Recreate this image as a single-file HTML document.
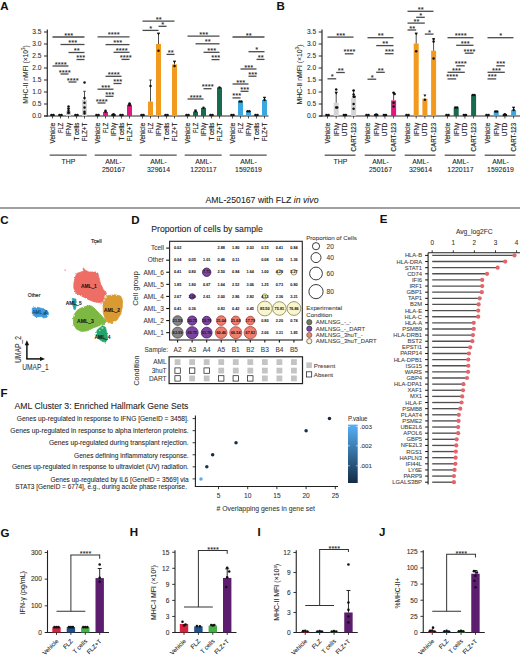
<!DOCTYPE html>
<html><head><meta charset="utf-8"><title>Figure</title>
<style>
html,body{margin:0;padding:0;background:#fff;}
body{width:520px;height:658px;overflow:hidden;}
svg{display:block;font-family:"Liberation Sans", sans-serif;}
</style></head>
<body>
<svg width="520" height="658" viewBox="0 0 520 658" font-family='"Liberation Sans", sans-serif'>
<rect width="520" height="658" fill="#fff"/>
<text x="0.30" y="9.80" font-size="11.5" text-anchor="start" fill="#111" stroke="#111" stroke-width="0.07" font-weight="bold">A</text>
<text x="276.50" y="9.80" font-size="11.5" text-anchor="start" fill="#111" stroke="#111" stroke-width="0.07" font-weight="bold">B</text>
<text x="0.30" y="223.80" font-size="11.5" text-anchor="start" fill="#111" stroke="#111" stroke-width="0.07" font-weight="bold">C</text>
<text x="131.20" y="223.60" font-size="11.5" text-anchor="start" fill="#111" stroke="#111" stroke-width="0.07" font-weight="bold">D</text>
<text x="379.80" y="223.30" font-size="11.5" text-anchor="start" fill="#111" stroke="#111" stroke-width="0.07" font-weight="bold">E</text>
<text x="0.60" y="396.60" font-size="11.5" text-anchor="start" fill="#111" stroke="#111" stroke-width="0.07" font-weight="bold">F</text>
<text x="0.50" y="537.20" font-size="11.5" text-anchor="start" fill="#111" stroke="#111" stroke-width="0.07" font-weight="bold">G</text>
<text x="129.80" y="536.40" font-size="11.5" text-anchor="start" fill="#111" stroke="#111" stroke-width="0.07" font-weight="bold">H</text>
<text x="257.40" y="536.20" font-size="11.5" text-anchor="start" fill="#111" stroke="#111" stroke-width="0.07" font-weight="bold">I</text>
<text x="379.00" y="536.40" font-size="11.5" text-anchor="start" fill="#111" stroke="#111" stroke-width="0.07" font-weight="bold">J</text>
<line x1="47.30" y1="29.50" x2="47.30" y2="116.50" stroke="#2b2b2b" stroke-width="1.2"/>
<line x1="44.00" y1="116.00" x2="47.30" y2="116.00" stroke="#2b2b2b" stroke-width="1.0"/>
<text x="41.40" y="118.30" font-size="6.6" text-anchor="end" fill="#2a2a2a" stroke="#2a2a2a" stroke-width="0.07">0.0</text>
<line x1="44.00" y1="104.00" x2="47.30" y2="104.00" stroke="#2b2b2b" stroke-width="1.0"/>
<text x="41.40" y="106.30" font-size="6.6" text-anchor="end" fill="#2a2a2a" stroke="#2a2a2a" stroke-width="0.07">0.5</text>
<line x1="44.00" y1="92.00" x2="47.30" y2="92.00" stroke="#2b2b2b" stroke-width="1.0"/>
<text x="41.40" y="94.30" font-size="6.6" text-anchor="end" fill="#2a2a2a" stroke="#2a2a2a" stroke-width="0.07">1.0</text>
<line x1="44.00" y1="80.00" x2="47.30" y2="80.00" stroke="#2b2b2b" stroke-width="1.0"/>
<text x="41.40" y="82.30" font-size="6.6" text-anchor="end" fill="#2a2a2a" stroke="#2a2a2a" stroke-width="0.07">1.5</text>
<line x1="44.00" y1="68.00" x2="47.30" y2="68.00" stroke="#2b2b2b" stroke-width="1.0"/>
<text x="41.40" y="70.30" font-size="6.6" text-anchor="end" fill="#2a2a2a" stroke="#2a2a2a" stroke-width="0.07">2.0</text>
<line x1="44.00" y1="56.00" x2="47.30" y2="56.00" stroke="#2b2b2b" stroke-width="1.0"/>
<text x="41.40" y="58.30" font-size="6.6" text-anchor="end" fill="#2a2a2a" stroke="#2a2a2a" stroke-width="0.07">2.5</text>
<line x1="44.00" y1="44.00" x2="47.30" y2="44.00" stroke="#2b2b2b" stroke-width="1.0"/>
<text x="41.40" y="46.30" font-size="6.6" text-anchor="end" fill="#2a2a2a" stroke="#2a2a2a" stroke-width="0.07">3.0</text>
<line x1="44.00" y1="32.00" x2="47.30" y2="32.00" stroke="#2b2b2b" stroke-width="1.0"/>
<text x="41.40" y="34.30" font-size="6.6" text-anchor="end" fill="#2a2a2a" stroke="#2a2a2a" stroke-width="0.07">3.5</text>
<text x="27.90" y="74.50" font-size="8.0" text-anchor="middle" fill="#222" stroke="#222" stroke-width="0.07" textLength="58.7" lengthAdjust="spacingAndGlyphs" transform="rotate(-90 27.90 74.50)">MHC-II nMFI (×10<tspan font-size="5.4" dy="-3">3</tspan><tspan dy="3">)</tspan></text>
<line x1="44.00" y1="116.00" x2="268.50" y2="116.00" stroke="#2b2b2b" stroke-width="1.1"/>
<line x1="52.50" y1="116.00" x2="52.50" y2="118.50" stroke="#2b2b2b" stroke-width="0.8"/>
<text x="54.90" y="122.80" font-size="6.7" text-anchor="end" fill="#222" stroke="#222" stroke-width="0.16" textLength="20.6" lengthAdjust="spacingAndGlyphs" transform="rotate(-90 54.90 122.80)">Vehicle</text>
<line x1="60.50" y1="116.00" x2="60.50" y2="118.50" stroke="#2b2b2b" stroke-width="0.8"/>
<text x="62.90" y="122.80" font-size="6.7" text-anchor="end" fill="#222" stroke="#222" stroke-width="0.16" textLength="10.2" lengthAdjust="spacingAndGlyphs" transform="rotate(-90 62.90 122.80)">FLZ</text>
<line x1="68.50" y1="116.00" x2="68.50" y2="118.50" stroke="#2b2b2b" stroke-width="0.8"/>
<text x="70.90" y="122.80" font-size="6.7" text-anchor="end" fill="#222" stroke="#222" stroke-width="0.16" textLength="13.3" lengthAdjust="spacingAndGlyphs" transform="rotate(-90 70.90 122.80)">IFNγ</text>
<line x1="76.50" y1="116.00" x2="76.50" y2="118.50" stroke="#2b2b2b" stroke-width="0.8"/>
<text x="78.90" y="122.80" font-size="6.7" text-anchor="end" fill="#222" stroke="#222" stroke-width="0.16" textLength="17.6" lengthAdjust="spacingAndGlyphs" transform="rotate(-90 78.90 122.80)">T cells</text>
<line x1="84.50" y1="116.00" x2="84.50" y2="118.50" stroke="#2b2b2b" stroke-width="0.8"/>
<text x="86.90" y="122.80" font-size="6.7" text-anchor="end" fill="#222" stroke="#222" stroke-width="0.16" textLength="18.4" lengthAdjust="spacingAndGlyphs" transform="rotate(-90 86.90 122.80)">FLZ+T</text>
<line x1="49.70" y1="155.20" x2="86.70" y2="155.20" stroke="#505050" stroke-width="1.3"/>
<line x1="97.50" y1="116.00" x2="97.50" y2="118.50" stroke="#2b2b2b" stroke-width="0.8"/>
<text x="99.90" y="122.80" font-size="6.7" text-anchor="end" fill="#222" stroke="#222" stroke-width="0.16" textLength="20.6" lengthAdjust="spacingAndGlyphs" transform="rotate(-90 99.90 122.80)">Vehicle</text>
<line x1="105.50" y1="116.00" x2="105.50" y2="118.50" stroke="#2b2b2b" stroke-width="0.8"/>
<text x="107.90" y="122.80" font-size="6.7" text-anchor="end" fill="#222" stroke="#222" stroke-width="0.16" textLength="10.2" lengthAdjust="spacingAndGlyphs" transform="rotate(-90 107.90 122.80)">FLZ</text>
<line x1="113.50" y1="116.00" x2="113.50" y2="118.50" stroke="#2b2b2b" stroke-width="0.8"/>
<text x="115.90" y="122.80" font-size="6.7" text-anchor="end" fill="#222" stroke="#222" stroke-width="0.16" textLength="13.3" lengthAdjust="spacingAndGlyphs" transform="rotate(-90 115.90 122.80)">IFNγ</text>
<line x1="121.50" y1="116.00" x2="121.50" y2="118.50" stroke="#2b2b2b" stroke-width="0.8"/>
<text x="123.90" y="122.80" font-size="6.7" text-anchor="end" fill="#222" stroke="#222" stroke-width="0.16" textLength="17.6" lengthAdjust="spacingAndGlyphs" transform="rotate(-90 123.90 122.80)">T cells</text>
<line x1="129.50" y1="116.00" x2="129.50" y2="118.50" stroke="#2b2b2b" stroke-width="0.8"/>
<text x="131.90" y="122.80" font-size="6.7" text-anchor="end" fill="#222" stroke="#222" stroke-width="0.16" textLength="18.4" lengthAdjust="spacingAndGlyphs" transform="rotate(-90 131.90 122.80)">FLZ+T</text>
<line x1="94.70" y1="155.20" x2="131.70" y2="155.20" stroke="#505050" stroke-width="1.3"/>
<line x1="142.50" y1="116.00" x2="142.50" y2="118.50" stroke="#2b2b2b" stroke-width="0.8"/>
<text x="144.90" y="122.80" font-size="6.7" text-anchor="end" fill="#222" stroke="#222" stroke-width="0.16" textLength="20.6" lengthAdjust="spacingAndGlyphs" transform="rotate(-90 144.90 122.80)">Vehicle</text>
<line x1="150.50" y1="116.00" x2="150.50" y2="118.50" stroke="#2b2b2b" stroke-width="0.8"/>
<text x="152.90" y="122.80" font-size="6.7" text-anchor="end" fill="#222" stroke="#222" stroke-width="0.16" textLength="10.2" lengthAdjust="spacingAndGlyphs" transform="rotate(-90 152.90 122.80)">FLZ</text>
<line x1="158.50" y1="116.00" x2="158.50" y2="118.50" stroke="#2b2b2b" stroke-width="0.8"/>
<text x="160.90" y="122.80" font-size="6.7" text-anchor="end" fill="#222" stroke="#222" stroke-width="0.16" textLength="13.3" lengthAdjust="spacingAndGlyphs" transform="rotate(-90 160.90 122.80)">IFNγ</text>
<line x1="166.50" y1="116.00" x2="166.50" y2="118.50" stroke="#2b2b2b" stroke-width="0.8"/>
<text x="168.90" y="122.80" font-size="6.7" text-anchor="end" fill="#222" stroke="#222" stroke-width="0.16" textLength="17.6" lengthAdjust="spacingAndGlyphs" transform="rotate(-90 168.90 122.80)">T cells</text>
<line x1="174.50" y1="116.00" x2="174.50" y2="118.50" stroke="#2b2b2b" stroke-width="0.8"/>
<text x="176.90" y="122.80" font-size="6.7" text-anchor="end" fill="#222" stroke="#222" stroke-width="0.16" textLength="18.4" lengthAdjust="spacingAndGlyphs" transform="rotate(-90 176.90 122.80)">FLZ+T</text>
<line x1="139.70" y1="155.20" x2="176.70" y2="155.20" stroke="#505050" stroke-width="1.3"/>
<line x1="187.50" y1="116.00" x2="187.50" y2="118.50" stroke="#2b2b2b" stroke-width="0.8"/>
<text x="189.90" y="122.80" font-size="6.7" text-anchor="end" fill="#222" stroke="#222" stroke-width="0.16" textLength="20.6" lengthAdjust="spacingAndGlyphs" transform="rotate(-90 189.90 122.80)">Vehicle</text>
<line x1="195.50" y1="116.00" x2="195.50" y2="118.50" stroke="#2b2b2b" stroke-width="0.8"/>
<text x="197.90" y="122.80" font-size="6.7" text-anchor="end" fill="#222" stroke="#222" stroke-width="0.16" textLength="10.2" lengthAdjust="spacingAndGlyphs" transform="rotate(-90 197.90 122.80)">FLZ</text>
<line x1="203.50" y1="116.00" x2="203.50" y2="118.50" stroke="#2b2b2b" stroke-width="0.8"/>
<text x="205.90" y="122.80" font-size="6.7" text-anchor="end" fill="#222" stroke="#222" stroke-width="0.16" textLength="13.3" lengthAdjust="spacingAndGlyphs" transform="rotate(-90 205.90 122.80)">IFNγ</text>
<line x1="211.50" y1="116.00" x2="211.50" y2="118.50" stroke="#2b2b2b" stroke-width="0.8"/>
<text x="213.90" y="122.80" font-size="6.7" text-anchor="end" fill="#222" stroke="#222" stroke-width="0.16" textLength="17.6" lengthAdjust="spacingAndGlyphs" transform="rotate(-90 213.90 122.80)">T cells</text>
<line x1="219.50" y1="116.00" x2="219.50" y2="118.50" stroke="#2b2b2b" stroke-width="0.8"/>
<text x="221.90" y="122.80" font-size="6.7" text-anchor="end" fill="#222" stroke="#222" stroke-width="0.16" textLength="18.4" lengthAdjust="spacingAndGlyphs" transform="rotate(-90 221.90 122.80)">FLZ+T</text>
<line x1="184.70" y1="155.20" x2="221.70" y2="155.20" stroke="#505050" stroke-width="1.3"/>
<line x1="232.50" y1="116.00" x2="232.50" y2="118.50" stroke="#2b2b2b" stroke-width="0.8"/>
<text x="234.90" y="122.80" font-size="6.7" text-anchor="end" fill="#222" stroke="#222" stroke-width="0.16" textLength="20.6" lengthAdjust="spacingAndGlyphs" transform="rotate(-90 234.90 122.80)">Vehicle</text>
<line x1="240.50" y1="116.00" x2="240.50" y2="118.50" stroke="#2b2b2b" stroke-width="0.8"/>
<text x="242.90" y="122.80" font-size="6.7" text-anchor="end" fill="#222" stroke="#222" stroke-width="0.16" textLength="10.2" lengthAdjust="spacingAndGlyphs" transform="rotate(-90 242.90 122.80)">FLZ</text>
<line x1="248.50" y1="116.00" x2="248.50" y2="118.50" stroke="#2b2b2b" stroke-width="0.8"/>
<text x="250.90" y="122.80" font-size="6.7" text-anchor="end" fill="#222" stroke="#222" stroke-width="0.16" textLength="13.3" lengthAdjust="spacingAndGlyphs" transform="rotate(-90 250.90 122.80)">IFNγ</text>
<line x1="256.50" y1="116.00" x2="256.50" y2="118.50" stroke="#2b2b2b" stroke-width="0.8"/>
<text x="258.90" y="122.80" font-size="6.7" text-anchor="end" fill="#222" stroke="#222" stroke-width="0.16" textLength="17.6" lengthAdjust="spacingAndGlyphs" transform="rotate(-90 258.90 122.80)">T cells</text>
<line x1="264.50" y1="116.00" x2="264.50" y2="118.50" stroke="#2b2b2b" stroke-width="0.8"/>
<text x="266.90" y="122.80" font-size="6.7" text-anchor="end" fill="#222" stroke="#222" stroke-width="0.16" textLength="18.4" lengthAdjust="spacingAndGlyphs" transform="rotate(-90 266.90 122.80)">FLZ+T</text>
<line x1="229.70" y1="155.20" x2="266.70" y2="155.20" stroke="#505050" stroke-width="1.3"/>
<circle cx="51.50" cy="115.00" r="1.35" fill="#111"/>
<circle cx="53.50" cy="115.00" r="1.35" fill="#111"/>
<circle cx="59.50" cy="115.00" r="1.35" fill="#111"/>
<circle cx="61.50" cy="115.00" r="1.35" fill="#111"/>
<rect x="66.00" y="111.20" width="5.00" height="4.80" fill="#d4d4d4"/>
<line x1="68.50" y1="111.20" x2="68.50" y2="108.32" stroke="#222" stroke-width="0.8"/>
<line x1="67.20" y1="108.32" x2="69.80" y2="108.32" stroke="#222" stroke-width="0.8"/>
<circle cx="68.50" cy="106.40" r="1.25" fill="#111"/>
<circle cx="68.50" cy="108.80" r="1.25" fill="#111"/>
<circle cx="68.50" cy="110.72" r="1.25" fill="#111"/>
<circle cx="68.50" cy="112.40" r="1.25" fill="#111"/>
<circle cx="68.50" cy="113.12" r="1.25" fill="#111"/>
<circle cx="75.50" cy="115.00" r="1.35" fill="#111"/>
<circle cx="77.50" cy="115.00" r="1.35" fill="#111"/>
<rect x="82.00" y="99.68" width="5.00" height="16.32" fill="#d4d4d4"/>
<line x1="84.50" y1="99.68" x2="84.50" y2="91.28" stroke="#222" stroke-width="0.8"/>
<line x1="83.20" y1="91.28" x2="85.80" y2="91.28" stroke="#222" stroke-width="0.8"/>
<circle cx="84.50" cy="82.40" r="1.25" fill="#111"/>
<circle cx="84.50" cy="98.00" r="1.25" fill="#111"/>
<circle cx="84.50" cy="102.80" r="1.25" fill="#111"/>
<circle cx="84.50" cy="107.60" r="1.25" fill="#111"/>
<circle cx="84.50" cy="111.68" r="1.25" fill="#111"/>
<circle cx="84.50" cy="113.60" r="1.25" fill="#111"/>
<circle cx="96.50" cy="115.00" r="1.35" fill="#111"/>
<circle cx="98.50" cy="115.00" r="1.35" fill="#111"/>
<rect x="103.00" y="111.92" width="5.00" height="4.08" fill="#e2177c"/>
<circle cx="105.50" cy="110.72" r="1.25" fill="#111"/>
<circle cx="105.50" cy="111.68" r="1.25" fill="#111"/>
<circle cx="112.50" cy="115.00" r="1.35" fill="#111"/>
<circle cx="114.50" cy="115.00" r="1.35" fill="#111"/>
<circle cx="113.50" cy="114.32" r="1.25" fill="#111"/>
<circle cx="120.50" cy="115.00" r="1.35" fill="#111"/>
<circle cx="122.50" cy="115.00" r="1.35" fill="#111"/>
<rect x="127.00" y="104.72" width="5.00" height="11.28" fill="#e2177c"/>
<circle cx="129.50" cy="103.52" r="1.25" fill="#111"/>
<circle cx="129.50" cy="104.48" r="1.25" fill="#111"/>
<circle cx="129.50" cy="105.20" r="1.25" fill="#111"/>
<circle cx="141.50" cy="115.00" r="1.35" fill="#111"/>
<circle cx="143.50" cy="115.00" r="1.35" fill="#111"/>
<rect x="148.00" y="101.60" width="5.00" height="14.40" fill="#f29a1e"/>
<line x1="150.50" y1="101.60" x2="150.50" y2="80.00" stroke="#222" stroke-width="0.8"/>
<line x1="149.20" y1="80.00" x2="151.80" y2="80.00" stroke="#222" stroke-width="0.8"/>
<circle cx="150.50" cy="86.00" r="1.25" fill="#111"/>
<rect x="156.00" y="44.00" width="5.00" height="72.00" fill="#f29a1e"/>
<line x1="158.50" y1="44.00" x2="158.50" y2="33.20" stroke="#222" stroke-width="0.8"/>
<line x1="157.20" y1="33.20" x2="159.80" y2="33.20" stroke="#222" stroke-width="0.8"/>
<circle cx="158.50" cy="50.72" r="1.25" fill="#111"/>
<path d="M157.00,32.72 L160.00,32.72 L158.50,35.42 Z" fill="#111"/>
<circle cx="165.50" cy="115.00" r="1.35" fill="#111"/>
<circle cx="167.50" cy="115.00" r="1.35" fill="#111"/>
<rect x="172.00" y="64.40" width="5.00" height="51.60" fill="#f29a1e"/>
<line x1="174.50" y1="64.40" x2="174.50" y2="61.28" stroke="#222" stroke-width="0.8"/>
<line x1="173.20" y1="61.28" x2="175.80" y2="61.28" stroke="#222" stroke-width="0.8"/>
<circle cx="174.50" cy="66.08" r="1.25" fill="#111"/>
<path d="M173.00,60.80 L176.00,60.80 L174.50,63.50 Z" fill="#111"/>
<circle cx="186.50" cy="115.00" r="1.35" fill="#111"/>
<circle cx="188.50" cy="115.00" r="1.35" fill="#111"/>
<rect x="193.00" y="111.68" width="5.00" height="4.32" fill="#176a4c"/>
<circle cx="195.50" cy="111.20" r="1.25" fill="#111"/>
<path d="M194.00,109.52 L197.00,109.52 L195.50,112.22 Z" fill="#111"/>
<rect x="201.00" y="107.84" width="5.00" height="8.16" fill="#176a4c"/>
<circle cx="203.50" cy="107.84" r="1.25" fill="#111"/>
<circle cx="210.50" cy="115.00" r="1.35" fill="#111"/>
<circle cx="212.50" cy="115.00" r="1.35" fill="#111"/>
<rect x="217.00" y="87.44" width="5.00" height="28.56" fill="#176a4c"/>
<circle cx="219.50" cy="87.44" r="1.25" fill="#111"/>
<circle cx="231.50" cy="115.00" r="1.35" fill="#111"/>
<circle cx="233.50" cy="115.00" r="1.35" fill="#111"/>
<rect x="238.00" y="101.60" width="5.00" height="14.40" fill="#3aa8de"/>
<circle cx="239.60" cy="101.60" r="1.25" fill="#111"/>
<circle cx="241.40" cy="101.60" r="1.25" fill="#111"/>
<rect x="246.00" y="111.20" width="5.00" height="4.80" fill="#3aa8de"/>
<circle cx="247.60" cy="111.20" r="1.25" fill="#111"/>
<circle cx="249.40" cy="111.20" r="1.25" fill="#111"/>
<circle cx="255.50" cy="115.00" r="1.35" fill="#111"/>
<circle cx="257.50" cy="115.00" r="1.35" fill="#111"/>
<rect x="262.00" y="99.92" width="5.00" height="16.08" fill="#3aa8de"/>
<line x1="264.50" y1="99.92" x2="264.50" y2="97.52" stroke="#222" stroke-width="0.8"/>
<line x1="263.20" y1="97.52" x2="265.80" y2="97.52" stroke="#222" stroke-width="0.8"/>
<circle cx="264.50" cy="99.92" r="1.25" fill="#111"/>
<path d="M263.00,96.80 L266.00,96.80 L264.50,99.50 Z" fill="#111"/>
<line x1="52.50" y1="37.00" x2="84.50" y2="37.00" stroke="#4a4a4a" stroke-width="1.3"/>
<text x="68.80" y="37.50" font-size="7.6" text-anchor="middle" fill="#1e1e1e" stroke="#1e1e1e" stroke-width="0.07" letter-spacing="0.05">***</text>
<line x1="60.50" y1="44.50" x2="84.50" y2="44.50" stroke="#4a4a4a" stroke-width="1.3"/>
<text x="72.80" y="45.00" font-size="7.6" text-anchor="middle" fill="#1e1e1e" stroke="#1e1e1e" stroke-width="0.07" letter-spacing="0.05">***</text>
<line x1="68.50" y1="52.50" x2="84.50" y2="52.50" stroke="#4a4a4a" stroke-width="1.3"/>
<text x="76.80" y="53.00" font-size="7.6" text-anchor="middle" fill="#1e1e1e" stroke="#1e1e1e" stroke-width="0.07" letter-spacing="0.05">**</text>
<line x1="76.50" y1="59.50" x2="84.50" y2="59.50" stroke="#4a4a4a" stroke-width="1.3"/>
<text x="80.80" y="60.00" font-size="7.6" text-anchor="middle" fill="#1e1e1e" stroke="#1e1e1e" stroke-width="0.07" letter-spacing="0.05">***</text>
<line x1="52.50" y1="66.00" x2="68.50" y2="66.00" stroke="#4a4a4a" stroke-width="1.3"/>
<text x="60.80" y="66.50" font-size="7.6" text-anchor="middle" fill="#1e1e1e" stroke="#1e1e1e" stroke-width="0.07" letter-spacing="0.05">****</text>
<line x1="60.50" y1="74.00" x2="68.50" y2="74.00" stroke="#4a4a4a" stroke-width="1.3"/>
<text x="64.80" y="74.50" font-size="7.6" text-anchor="middle" fill="#1e1e1e" stroke="#1e1e1e" stroke-width="0.07" letter-spacing="0.05">****</text>
<line x1="68.50" y1="82.00" x2="76.50" y2="82.00" stroke="#4a4a4a" stroke-width="1.3"/>
<text x="72.80" y="82.50" font-size="7.6" text-anchor="middle" fill="#1e1e1e" stroke="#1e1e1e" stroke-width="0.07" letter-spacing="0.05">****</text>
<line x1="97.50" y1="36.90" x2="129.50" y2="36.90" stroke="#4a4a4a" stroke-width="1.3"/>
<text x="113.80" y="37.40" font-size="7.6" text-anchor="middle" fill="#1e1e1e" stroke="#1e1e1e" stroke-width="0.07" letter-spacing="0.05">****</text>
<line x1="105.50" y1="44.60" x2="129.50" y2="44.60" stroke="#4a4a4a" stroke-width="1.3"/>
<text x="117.80" y="45.10" font-size="7.6" text-anchor="middle" fill="#1e1e1e" stroke="#1e1e1e" stroke-width="0.07" letter-spacing="0.05">***</text>
<line x1="113.50" y1="52.30" x2="129.50" y2="52.30" stroke="#4a4a4a" stroke-width="1.3"/>
<text x="121.80" y="52.80" font-size="7.6" text-anchor="middle" fill="#1e1e1e" stroke="#1e1e1e" stroke-width="0.07" letter-spacing="0.05">****</text>
<line x1="121.50" y1="59.40" x2="129.50" y2="59.40" stroke="#4a4a4a" stroke-width="1.3"/>
<text x="125.80" y="59.90" font-size="7.6" text-anchor="middle" fill="#1e1e1e" stroke="#1e1e1e" stroke-width="0.07" letter-spacing="0.05">****</text>
<line x1="105.50" y1="76.30" x2="121.50" y2="76.30" stroke="#4a4a4a" stroke-width="1.3"/>
<text x="113.80" y="76.80" font-size="7.6" text-anchor="middle" fill="#1e1e1e" stroke="#1e1e1e" stroke-width="0.07" letter-spacing="0.05">****</text>
<line x1="113.50" y1="83.50" x2="121.50" y2="83.50" stroke="#4a4a4a" stroke-width="1.3"/>
<text x="117.80" y="84.00" font-size="7.6" text-anchor="middle" fill="#1e1e1e" stroke="#1e1e1e" stroke-width="0.07" letter-spacing="0.05">***</text>
<line x1="97.50" y1="89.20" x2="113.50" y2="89.20" stroke="#4a4a4a" stroke-width="1.3"/>
<text x="105.80" y="89.70" font-size="7.6" text-anchor="middle" fill="#1e1e1e" stroke="#1e1e1e" stroke-width="0.07" letter-spacing="0.05">***</text>
<line x1="105.50" y1="96.30" x2="113.50" y2="96.30" stroke="#4a4a4a" stroke-width="1.3"/>
<text x="109.80" y="96.80" font-size="7.6" text-anchor="middle" fill="#1e1e1e" stroke="#1e1e1e" stroke-width="0.07" letter-spacing="0.05">***</text>
<line x1="97.50" y1="103.00" x2="105.50" y2="103.00" stroke="#4a4a4a" stroke-width="1.3"/>
<text x="101.80" y="103.50" font-size="7.6" text-anchor="middle" fill="#1e1e1e" stroke="#1e1e1e" stroke-width="0.07" letter-spacing="0.05">****</text>
<line x1="142.50" y1="21.20" x2="174.50" y2="21.20" stroke="#4a4a4a" stroke-width="1.3"/>
<text x="158.80" y="21.70" font-size="7.6" text-anchor="middle" fill="#1e1e1e" stroke="#1e1e1e" stroke-width="0.07" letter-spacing="0.05">**</text>
<line x1="158.50" y1="26.30" x2="166.50" y2="26.30" stroke="#4a4a4a" stroke-width="1.3"/>
<text x="162.80" y="26.80" font-size="7.6" text-anchor="middle" fill="#1e1e1e" stroke="#1e1e1e" stroke-width="0.07" letter-spacing="0.05">*</text>
<line x1="142.50" y1="30.40" x2="158.50" y2="30.40" stroke="#4a4a4a" stroke-width="1.3"/>
<text x="150.80" y="30.90" font-size="7.6" text-anchor="middle" fill="#1e1e1e" stroke="#1e1e1e" stroke-width="0.07" letter-spacing="0.05">*</text>
<line x1="166.50" y1="54.40" x2="174.50" y2="54.40" stroke="#4a4a4a" stroke-width="1.3"/>
<text x="170.80" y="54.90" font-size="7.6" text-anchor="middle" fill="#1e1e1e" stroke="#1e1e1e" stroke-width="0.07" letter-spacing="0.05">**</text>
<line x1="187.50" y1="36.20" x2="219.50" y2="36.20" stroke="#4a4a4a" stroke-width="1.3"/>
<text x="203.80" y="36.70" font-size="7.6" text-anchor="middle" fill="#1e1e1e" stroke="#1e1e1e" stroke-width="0.07" letter-spacing="0.05">***</text>
<line x1="195.50" y1="43.80" x2="219.50" y2="43.80" stroke="#4a4a4a" stroke-width="1.3"/>
<text x="207.80" y="44.30" font-size="7.6" text-anchor="middle" fill="#1e1e1e" stroke="#1e1e1e" stroke-width="0.07" letter-spacing="0.05">**</text>
<line x1="203.50" y1="52.30" x2="219.50" y2="52.30" stroke="#4a4a4a" stroke-width="1.3"/>
<text x="211.80" y="52.80" font-size="7.6" text-anchor="middle" fill="#1e1e1e" stroke="#1e1e1e" stroke-width="0.07" letter-spacing="0.05">***</text>
<line x1="211.50" y1="59.60" x2="219.50" y2="59.60" stroke="#4a4a4a" stroke-width="1.3"/>
<text x="215.80" y="60.10" font-size="7.6" text-anchor="middle" fill="#1e1e1e" stroke="#1e1e1e" stroke-width="0.07" letter-spacing="0.05">***</text>
<line x1="203.50" y1="88.70" x2="211.50" y2="88.70" stroke="#4a4a4a" stroke-width="1.3"/>
<text x="207.80" y="89.20" font-size="7.6" text-anchor="middle" fill="#1e1e1e" stroke="#1e1e1e" stroke-width="0.07" letter-spacing="0.05">****</text>
<line x1="187.50" y1="99.00" x2="203.50" y2="99.00" stroke="#4a4a4a" stroke-width="1.3"/>
<text x="195.80" y="99.50" font-size="7.6" text-anchor="middle" fill="#1e1e1e" stroke="#1e1e1e" stroke-width="0.07" letter-spacing="0.05">****</text>
<line x1="232.50" y1="37.00" x2="264.50" y2="37.00" stroke="#4a4a4a" stroke-width="1.3"/>
<text x="248.80" y="37.50" font-size="7.6" text-anchor="middle" fill="#1e1e1e" stroke="#1e1e1e" stroke-width="0.07" letter-spacing="0.05">**</text>
<line x1="248.50" y1="51.70" x2="264.50" y2="51.70" stroke="#4a4a4a" stroke-width="1.3"/>
<text x="256.80" y="52.20" font-size="7.6" text-anchor="middle" fill="#1e1e1e" stroke="#1e1e1e" stroke-width="0.07" letter-spacing="0.05">*</text>
<line x1="256.50" y1="59.40" x2="264.50" y2="59.40" stroke="#4a4a4a" stroke-width="1.3"/>
<text x="260.80" y="59.90" font-size="7.6" text-anchor="middle" fill="#1e1e1e" stroke="#1e1e1e" stroke-width="0.07" letter-spacing="0.05">**</text>
<line x1="240.50" y1="69.00" x2="256.50" y2="69.00" stroke="#4a4a4a" stroke-width="1.3"/>
<text x="248.80" y="69.50" font-size="7.6" text-anchor="middle" fill="#1e1e1e" stroke="#1e1e1e" stroke-width="0.07" letter-spacing="0.05">***</text>
<line x1="248.50" y1="76.20" x2="256.50" y2="76.20" stroke="#4a4a4a" stroke-width="1.3"/>
<text x="252.80" y="76.70" font-size="7.6" text-anchor="middle" fill="#1e1e1e" stroke="#1e1e1e" stroke-width="0.07" letter-spacing="0.05">***</text>
<line x1="232.50" y1="84.00" x2="248.50" y2="84.00" stroke="#4a4a4a" stroke-width="1.3"/>
<text x="240.80" y="84.50" font-size="7.6" text-anchor="middle" fill="#1e1e1e" stroke="#1e1e1e" stroke-width="0.07" letter-spacing="0.05">***</text>
<line x1="240.50" y1="91.30" x2="248.50" y2="91.30" stroke="#4a4a4a" stroke-width="1.3"/>
<text x="244.80" y="91.80" font-size="7.6" text-anchor="middle" fill="#1e1e1e" stroke="#1e1e1e" stroke-width="0.07" letter-spacing="0.05">***</text>
<line x1="232.50" y1="97.90" x2="240.50" y2="97.90" stroke="#4a4a4a" stroke-width="1.3"/>
<text x="236.80" y="98.40" font-size="7.6" text-anchor="middle" fill="#1e1e1e" stroke="#1e1e1e" stroke-width="0.07" letter-spacing="0.05">***</text>
<text x="68.50" y="164.40" font-size="6.9" text-anchor="middle" fill="#222" stroke="#222" stroke-width="0.07">THP</text>
<text x="113.50" y="164.40" font-size="6.9" text-anchor="middle" fill="#222" stroke="#222" stroke-width="0.07">AML-</text>
<text x="113.50" y="172.20" font-size="6.9" text-anchor="middle" fill="#222" stroke="#222" stroke-width="0.07">250167</text>
<text x="158.50" y="164.40" font-size="6.9" text-anchor="middle" fill="#222" stroke="#222" stroke-width="0.07">AML-</text>
<text x="158.50" y="172.20" font-size="6.9" text-anchor="middle" fill="#222" stroke="#222" stroke-width="0.07">329614</text>
<text x="203.50" y="164.40" font-size="6.9" text-anchor="middle" fill="#222" stroke="#222" stroke-width="0.07">AML-</text>
<text x="203.50" y="172.20" font-size="6.9" text-anchor="middle" fill="#222" stroke="#222" stroke-width="0.07">1220117</text>
<text x="248.50" y="164.40" font-size="6.9" text-anchor="middle" fill="#222" stroke="#222" stroke-width="0.07">AML-</text>
<text x="248.50" y="172.20" font-size="6.9" text-anchor="middle" fill="#222" stroke="#222" stroke-width="0.07">1592619</text>
<line x1="322.00" y1="29.50" x2="322.00" y2="116.50" stroke="#2b2b2b" stroke-width="1.2"/>
<line x1="318.70" y1="116.00" x2="322.00" y2="116.00" stroke="#2b2b2b" stroke-width="1.0"/>
<text x="316.10" y="118.30" font-size="6.6" text-anchor="end" fill="#2a2a2a" stroke="#2a2a2a" stroke-width="0.07">0.0</text>
<line x1="318.70" y1="104.00" x2="322.00" y2="104.00" stroke="#2b2b2b" stroke-width="1.0"/>
<text x="316.10" y="106.30" font-size="6.6" text-anchor="end" fill="#2a2a2a" stroke="#2a2a2a" stroke-width="0.07">0.5</text>
<line x1="318.70" y1="92.00" x2="322.00" y2="92.00" stroke="#2b2b2b" stroke-width="1.0"/>
<text x="316.10" y="94.30" font-size="6.6" text-anchor="end" fill="#2a2a2a" stroke="#2a2a2a" stroke-width="0.07">1.0</text>
<line x1="318.70" y1="80.00" x2="322.00" y2="80.00" stroke="#2b2b2b" stroke-width="1.0"/>
<text x="316.10" y="82.30" font-size="6.6" text-anchor="end" fill="#2a2a2a" stroke="#2a2a2a" stroke-width="0.07">1.5</text>
<line x1="318.70" y1="68.00" x2="322.00" y2="68.00" stroke="#2b2b2b" stroke-width="1.0"/>
<text x="316.10" y="70.30" font-size="6.6" text-anchor="end" fill="#2a2a2a" stroke="#2a2a2a" stroke-width="0.07">2.0</text>
<line x1="318.70" y1="56.00" x2="322.00" y2="56.00" stroke="#2b2b2b" stroke-width="1.0"/>
<text x="316.10" y="58.30" font-size="6.6" text-anchor="end" fill="#2a2a2a" stroke="#2a2a2a" stroke-width="0.07">2.5</text>
<line x1="318.70" y1="44.00" x2="322.00" y2="44.00" stroke="#2b2b2b" stroke-width="1.0"/>
<text x="316.10" y="46.30" font-size="6.6" text-anchor="end" fill="#2a2a2a" stroke="#2a2a2a" stroke-width="0.07">3.0</text>
<line x1="318.70" y1="32.00" x2="322.00" y2="32.00" stroke="#2b2b2b" stroke-width="1.0"/>
<text x="316.10" y="34.30" font-size="6.6" text-anchor="end" fill="#2a2a2a" stroke="#2a2a2a" stroke-width="0.07">3.5</text>
<text x="301.80" y="74.50" font-size="8.0" text-anchor="middle" fill="#222" stroke="#222" stroke-width="0.07" textLength="60" lengthAdjust="spacingAndGlyphs" transform="rotate(-90 301.80 74.50)">MHC-II nMFI (×10<tspan font-size="5.4" dy="-3">3</tspan><tspan dy="3">)</tspan></text>
<line x1="319.20" y1="116.00" x2="520.00" y2="116.00" stroke="#2b2b2b" stroke-width="1.1"/>
<line x1="327.50" y1="116.00" x2="327.50" y2="118.50" stroke="#2b2b2b" stroke-width="0.8"/>
<text x="329.90" y="122.80" font-size="6.7" text-anchor="end" fill="#222" stroke="#222" stroke-width="0.16" textLength="20.6" lengthAdjust="spacingAndGlyphs" transform="rotate(-90 329.90 122.80)">Vehicle</text>
<line x1="336.20" y1="116.00" x2="336.20" y2="118.50" stroke="#2b2b2b" stroke-width="0.8"/>
<text x="338.60" y="122.80" font-size="6.7" text-anchor="end" fill="#222" stroke="#222" stroke-width="0.16" textLength="13.3" lengthAdjust="spacingAndGlyphs" transform="rotate(-90 338.60 122.80)">IFNγ</text>
<line x1="344.90" y1="116.00" x2="344.90" y2="118.50" stroke="#2b2b2b" stroke-width="0.8"/>
<text x="347.30" y="122.80" font-size="6.7" text-anchor="end" fill="#222" stroke="#222" stroke-width="0.16" textLength="13.5" lengthAdjust="spacingAndGlyphs" transform="rotate(-90 347.30 122.80)">UTD</text>
<line x1="353.60" y1="116.00" x2="353.60" y2="118.50" stroke="#2b2b2b" stroke-width="0.8"/>
<text x="356.00" y="122.80" font-size="6.7" text-anchor="end" fill="#222" stroke="#222" stroke-width="0.16" textLength="28.6" lengthAdjust="spacingAndGlyphs" transform="rotate(-90 356.00 122.80)">CART-123</text>
<line x1="324.70" y1="155.20" x2="355.50" y2="155.20" stroke="#505050" stroke-width="1.3"/>
<line x1="367.50" y1="116.00" x2="367.50" y2="118.50" stroke="#2b2b2b" stroke-width="0.8"/>
<text x="369.90" y="122.80" font-size="6.7" text-anchor="end" fill="#222" stroke="#222" stroke-width="0.16" textLength="20.6" lengthAdjust="spacingAndGlyphs" transform="rotate(-90 369.90 122.80)">Vehicle</text>
<line x1="376.20" y1="116.00" x2="376.20" y2="118.50" stroke="#2b2b2b" stroke-width="0.8"/>
<text x="378.60" y="122.80" font-size="6.7" text-anchor="end" fill="#222" stroke="#222" stroke-width="0.16" textLength="13.3" lengthAdjust="spacingAndGlyphs" transform="rotate(-90 378.60 122.80)">IFNγ</text>
<line x1="384.90" y1="116.00" x2="384.90" y2="118.50" stroke="#2b2b2b" stroke-width="0.8"/>
<text x="387.30" y="122.80" font-size="6.7" text-anchor="end" fill="#222" stroke="#222" stroke-width="0.16" textLength="13.5" lengthAdjust="spacingAndGlyphs" transform="rotate(-90 387.30 122.80)">UTD</text>
<line x1="393.60" y1="116.00" x2="393.60" y2="118.50" stroke="#2b2b2b" stroke-width="0.8"/>
<text x="396.00" y="122.80" font-size="6.7" text-anchor="end" fill="#222" stroke="#222" stroke-width="0.16" textLength="28.6" lengthAdjust="spacingAndGlyphs" transform="rotate(-90 396.00 122.80)">CART-123</text>
<line x1="364.70" y1="155.20" x2="395.50" y2="155.20" stroke="#505050" stroke-width="1.3"/>
<line x1="407.50" y1="116.00" x2="407.50" y2="118.50" stroke="#2b2b2b" stroke-width="0.8"/>
<text x="409.90" y="122.80" font-size="6.7" text-anchor="end" fill="#222" stroke="#222" stroke-width="0.16" textLength="20.6" lengthAdjust="spacingAndGlyphs" transform="rotate(-90 409.90 122.80)">Vehicle</text>
<line x1="416.20" y1="116.00" x2="416.20" y2="118.50" stroke="#2b2b2b" stroke-width="0.8"/>
<text x="418.60" y="122.80" font-size="6.7" text-anchor="end" fill="#222" stroke="#222" stroke-width="0.16" textLength="13.3" lengthAdjust="spacingAndGlyphs" transform="rotate(-90 418.60 122.80)">IFNγ</text>
<line x1="424.90" y1="116.00" x2="424.90" y2="118.50" stroke="#2b2b2b" stroke-width="0.8"/>
<text x="427.30" y="122.80" font-size="6.7" text-anchor="end" fill="#222" stroke="#222" stroke-width="0.16" textLength="13.5" lengthAdjust="spacingAndGlyphs" transform="rotate(-90 427.30 122.80)">UTD</text>
<line x1="433.60" y1="116.00" x2="433.60" y2="118.50" stroke="#2b2b2b" stroke-width="0.8"/>
<text x="436.00" y="122.80" font-size="6.7" text-anchor="end" fill="#222" stroke="#222" stroke-width="0.16" textLength="28.6" lengthAdjust="spacingAndGlyphs" transform="rotate(-90 436.00 122.80)">CART-123</text>
<line x1="404.70" y1="155.20" x2="435.50" y2="155.20" stroke="#505050" stroke-width="1.3"/>
<line x1="447.50" y1="116.00" x2="447.50" y2="118.50" stroke="#2b2b2b" stroke-width="0.8"/>
<text x="449.90" y="122.80" font-size="6.7" text-anchor="end" fill="#222" stroke="#222" stroke-width="0.16" textLength="20.6" lengthAdjust="spacingAndGlyphs" transform="rotate(-90 449.90 122.80)">Vehicle</text>
<line x1="456.20" y1="116.00" x2="456.20" y2="118.50" stroke="#2b2b2b" stroke-width="0.8"/>
<text x="458.60" y="122.80" font-size="6.7" text-anchor="end" fill="#222" stroke="#222" stroke-width="0.16" textLength="13.3" lengthAdjust="spacingAndGlyphs" transform="rotate(-90 458.60 122.80)">IFNγ</text>
<line x1="464.90" y1="116.00" x2="464.90" y2="118.50" stroke="#2b2b2b" stroke-width="0.8"/>
<text x="467.30" y="122.80" font-size="6.7" text-anchor="end" fill="#222" stroke="#222" stroke-width="0.16" textLength="13.5" lengthAdjust="spacingAndGlyphs" transform="rotate(-90 467.30 122.80)">UTD</text>
<line x1="473.60" y1="116.00" x2="473.60" y2="118.50" stroke="#2b2b2b" stroke-width="0.8"/>
<text x="476.00" y="122.80" font-size="6.7" text-anchor="end" fill="#222" stroke="#222" stroke-width="0.16" textLength="28.6" lengthAdjust="spacingAndGlyphs" transform="rotate(-90 476.00 122.80)">CART-123</text>
<line x1="444.70" y1="155.20" x2="475.50" y2="155.20" stroke="#505050" stroke-width="1.3"/>
<line x1="487.50" y1="116.00" x2="487.50" y2="118.50" stroke="#2b2b2b" stroke-width="0.8"/>
<text x="489.90" y="122.80" font-size="6.7" text-anchor="end" fill="#222" stroke="#222" stroke-width="0.16" textLength="20.6" lengthAdjust="spacingAndGlyphs" transform="rotate(-90 489.90 122.80)">Vehicle</text>
<line x1="496.20" y1="116.00" x2="496.20" y2="118.50" stroke="#2b2b2b" stroke-width="0.8"/>
<text x="498.60" y="122.80" font-size="6.7" text-anchor="end" fill="#222" stroke="#222" stroke-width="0.16" textLength="13.3" lengthAdjust="spacingAndGlyphs" transform="rotate(-90 498.60 122.80)">IFNγ</text>
<line x1="504.90" y1="116.00" x2="504.90" y2="118.50" stroke="#2b2b2b" stroke-width="0.8"/>
<text x="507.30" y="122.80" font-size="6.7" text-anchor="end" fill="#222" stroke="#222" stroke-width="0.16" textLength="13.5" lengthAdjust="spacingAndGlyphs" transform="rotate(-90 507.30 122.80)">UTD</text>
<line x1="513.60" y1="116.00" x2="513.60" y2="118.50" stroke="#2b2b2b" stroke-width="0.8"/>
<text x="516.00" y="122.80" font-size="6.7" text-anchor="end" fill="#222" stroke="#222" stroke-width="0.16" textLength="28.6" lengthAdjust="spacingAndGlyphs" transform="rotate(-90 516.00 122.80)">CART-123</text>
<line x1="484.70" y1="155.20" x2="515.50" y2="155.20" stroke="#505050" stroke-width="1.3"/>
<text x="340.50" y="164.40" font-size="6.9" text-anchor="middle" fill="#222" stroke="#222" stroke-width="0.07">THP</text>
<text x="380.50" y="164.40" font-size="6.9" text-anchor="middle" fill="#222" stroke="#222" stroke-width="0.07">AML-</text>
<text x="380.50" y="172.20" font-size="6.9" text-anchor="middle" fill="#222" stroke="#222" stroke-width="0.07">250167</text>
<text x="420.50" y="164.40" font-size="6.9" text-anchor="middle" fill="#222" stroke="#222" stroke-width="0.07">AML-</text>
<text x="420.50" y="172.20" font-size="6.9" text-anchor="middle" fill="#222" stroke="#222" stroke-width="0.07">329614</text>
<text x="460.50" y="164.40" font-size="6.9" text-anchor="middle" fill="#222" stroke="#222" stroke-width="0.07">AML-</text>
<text x="460.50" y="172.20" font-size="6.9" text-anchor="middle" fill="#222" stroke="#222" stroke-width="0.07">1220117</text>
<text x="500.50" y="164.40" font-size="6.9" text-anchor="middle" fill="#222" stroke="#222" stroke-width="0.07">AML-</text>
<text x="500.50" y="172.20" font-size="6.9" text-anchor="middle" fill="#222" stroke="#222" stroke-width="0.07">1592619</text>
<circle cx="326.50" cy="115.00" r="1.35" fill="#111"/>
<circle cx="328.50" cy="115.00" r="1.35" fill="#111"/>
<rect x="333.70" y="102.80" width="5.00" height="13.20" fill="#d4d4d4"/>
<line x1="336.20" y1="102.80" x2="336.20" y2="92.00" stroke="#222" stroke-width="0.8"/>
<line x1="334.90" y1="92.00" x2="337.50" y2="92.00" stroke="#222" stroke-width="0.8"/>
<circle cx="336.20" cy="89.60" r="1.25" fill="#111"/>
<circle cx="336.20" cy="107.60" r="1.25" fill="#111"/>
<circle cx="337.20" cy="107.60" r="1.25" fill="#111"/>
<path d="M334.70,92.00 L337.70,92.00 L336.20,94.70 Z" fill="#111"/>
<circle cx="343.90" cy="115.00" r="1.35" fill="#111"/>
<circle cx="345.90" cy="115.00" r="1.35" fill="#111"/>
<rect x="351.10" y="98.00" width="5.00" height="18.00" fill="#d4d4d4"/>
<line x1="353.60" y1="98.00" x2="353.60" y2="90.56" stroke="#222" stroke-width="0.8"/>
<line x1="352.30" y1="90.56" x2="354.90" y2="90.56" stroke="#222" stroke-width="0.8"/>
<circle cx="353.60" cy="90.56" r="1.25" fill="#111"/>
<circle cx="353.60" cy="94.40" r="1.25" fill="#111"/>
<circle cx="353.60" cy="96.80" r="1.25" fill="#111"/>
<circle cx="354.60" cy="96.80" r="1.25" fill="#111"/>
<circle cx="353.60" cy="104.00" r="1.25" fill="#111"/>
<circle cx="353.60" cy="108.80" r="1.25" fill="#111"/>
<circle cx="366.50" cy="115.00" r="1.35" fill="#111"/>
<circle cx="368.50" cy="115.00" r="1.35" fill="#111"/>
<circle cx="375.20" cy="115.00" r="1.35" fill="#111"/>
<circle cx="377.20" cy="115.00" r="1.35" fill="#111"/>
<circle cx="376.20" cy="114.56" r="1.25" fill="#111"/>
<circle cx="383.90" cy="115.00" r="1.35" fill="#111"/>
<circle cx="385.90" cy="115.00" r="1.35" fill="#111"/>
<rect x="391.10" y="100.40" width="5.00" height="15.60" fill="#e2177c"/>
<line x1="393.60" y1="100.40" x2="393.60" y2="92.72" stroke="#222" stroke-width="0.8"/>
<line x1="392.30" y1="92.72" x2="394.90" y2="92.72" stroke="#222" stroke-width="0.8"/>
<circle cx="393.60" cy="92.72" r="1.25" fill="#111"/>
<circle cx="394.60" cy="93.92" r="1.25" fill="#111"/>
<circle cx="393.60" cy="102.80" r="1.25" fill="#111"/>
<circle cx="393.60" cy="106.40" r="1.25" fill="#111"/>
<circle cx="406.50" cy="115.00" r="1.35" fill="#111"/>
<circle cx="408.50" cy="115.00" r="1.35" fill="#111"/>
<rect x="413.70" y="43.52" width="5.00" height="72.48" fill="#f29a1e"/>
<line x1="416.20" y1="43.52" x2="416.20" y2="33.20" stroke="#222" stroke-width="0.8"/>
<line x1="414.90" y1="33.20" x2="417.50" y2="33.20" stroke="#222" stroke-width="0.8"/>
<circle cx="416.20" cy="51.20" r="1.25" fill="#111"/>
<path d="M414.70,32.72 L417.70,32.72 L416.20,35.42 Z" fill="#111"/>
<rect x="422.40" y="98.72" width="5.00" height="17.28" fill="#f29a1e"/>
<circle cx="424.90" cy="99.68" r="1.25" fill="#111"/>
<path d="M423.40,94.40 L426.40,94.40 L424.90,97.10 Z" fill="#111"/>
<rect x="431.10" y="50.72" width="5.00" height="65.28" fill="#f29a1e"/>
<line x1="433.60" y1="50.72" x2="433.60" y2="39.20" stroke="#222" stroke-width="0.8"/>
<line x1="432.30" y1="39.20" x2="434.90" y2="39.20" stroke="#222" stroke-width="0.8"/>
<circle cx="433.60" cy="41.60" r="1.25" fill="#111"/>
<circle cx="433.60" cy="58.40" r="1.25" fill="#111"/>
<path d="M432.10,38.00 L435.10,38.00 L433.60,40.70 Z" fill="#111"/>
<circle cx="446.50" cy="115.00" r="1.35" fill="#111"/>
<circle cx="448.50" cy="115.00" r="1.35" fill="#111"/>
<rect x="453.70" y="107.60" width="5.00" height="8.40" fill="#176a4c"/>
<circle cx="455.30" cy="107.60" r="1.25" fill="#111"/>
<circle cx="457.10" cy="107.60" r="1.25" fill="#111"/>
<circle cx="463.90" cy="115.00" r="1.35" fill="#111"/>
<circle cx="465.90" cy="115.00" r="1.35" fill="#111"/>
<rect x="471.10" y="95.12" width="5.00" height="20.88" fill="#176a4c"/>
<circle cx="472.70" cy="95.12" r="1.25" fill="#111"/>
<circle cx="474.50" cy="95.12" r="1.25" fill="#111"/>
<circle cx="486.50" cy="115.00" r="1.35" fill="#111"/>
<circle cx="488.50" cy="115.00" r="1.35" fill="#111"/>
<rect x="493.70" y="111.44" width="5.00" height="4.56" fill="#3aa8de"/>
<circle cx="495.30" cy="111.44" r="1.25" fill="#111"/>
<circle cx="497.10" cy="111.44" r="1.25" fill="#111"/>
<circle cx="503.90" cy="115.00" r="1.35" fill="#111"/>
<circle cx="505.90" cy="115.00" r="1.35" fill="#111"/>
<circle cx="504.90" cy="114.32" r="1.25" fill="#111"/>
<rect x="511.10" y="110.00" width="5.00" height="6.00" fill="#3aa8de"/>
<line x1="513.60" y1="110.00" x2="513.60" y2="107.36" stroke="#222" stroke-width="0.8"/>
<line x1="512.30" y1="107.36" x2="514.90" y2="107.36" stroke="#222" stroke-width="0.8"/>
<circle cx="513.60" cy="110.00" r="1.25" fill="#111"/>
<path d="M512.10,106.64 L515.10,106.64 L513.60,109.34 Z" fill="#111"/>
<line x1="327.50" y1="37.10" x2="353.50" y2="37.10" stroke="#4a4a4a" stroke-width="1.3"/>
<text x="340.80" y="37.60" font-size="7.6" text-anchor="middle" fill="#1e1e1e" stroke="#1e1e1e" stroke-width="0.07" letter-spacing="0.05">***</text>
<line x1="344.80" y1="53.80" x2="353.50" y2="53.80" stroke="#4a4a4a" stroke-width="1.3"/>
<text x="349.45" y="54.30" font-size="7.6" text-anchor="middle" fill="#1e1e1e" stroke="#1e1e1e" stroke-width="0.07" letter-spacing="0.05">****</text>
<line x1="336.20" y1="72.50" x2="344.80" y2="72.50" stroke="#4a4a4a" stroke-width="1.3"/>
<text x="340.80" y="73.00" font-size="7.6" text-anchor="middle" fill="#1e1e1e" stroke="#1e1e1e" stroke-width="0.07" letter-spacing="0.05">**</text>
<line x1="327.50" y1="78.80" x2="336.20" y2="78.80" stroke="#4a4a4a" stroke-width="1.3"/>
<text x="332.15" y="79.30" font-size="7.6" text-anchor="middle" fill="#1e1e1e" stroke="#1e1e1e" stroke-width="0.07" letter-spacing="0.05">*</text>
<line x1="367.50" y1="37.70" x2="393.50" y2="37.70" stroke="#4a4a4a" stroke-width="1.3"/>
<text x="380.80" y="38.20" font-size="7.6" text-anchor="middle" fill="#1e1e1e" stroke="#1e1e1e" stroke-width="0.07" letter-spacing="0.05">**</text>
<line x1="376.20" y1="45.60" x2="393.50" y2="45.60" stroke="#4a4a4a" stroke-width="1.3"/>
<text x="385.15" y="46.10" font-size="7.6" text-anchor="middle" fill="#1e1e1e" stroke="#1e1e1e" stroke-width="0.07" letter-spacing="0.05">**</text>
<line x1="384.80" y1="53.70" x2="393.50" y2="53.70" stroke="#4a4a4a" stroke-width="1.3"/>
<text x="389.45" y="54.20" font-size="7.6" text-anchor="middle" fill="#1e1e1e" stroke="#1e1e1e" stroke-width="0.07" letter-spacing="0.05">***</text>
<line x1="376.20" y1="72.30" x2="384.80" y2="72.30" stroke="#4a4a4a" stroke-width="1.3"/>
<text x="380.80" y="72.80" font-size="7.6" text-anchor="middle" fill="#1e1e1e" stroke="#1e1e1e" stroke-width="0.07" letter-spacing="0.05">**</text>
<line x1="367.50" y1="79.20" x2="376.20" y2="79.20" stroke="#4a4a4a" stroke-width="1.3"/>
<text x="372.15" y="79.70" font-size="7.6" text-anchor="middle" fill="#1e1e1e" stroke="#1e1e1e" stroke-width="0.07" letter-spacing="0.05">*</text>
<line x1="407.50" y1="11.30" x2="433.50" y2="11.30" stroke="#4a4a4a" stroke-width="1.3"/>
<text x="420.80" y="11.80" font-size="7.6" text-anchor="middle" fill="#1e1e1e" stroke="#1e1e1e" stroke-width="0.07" letter-spacing="0.05">**</text>
<line x1="416.20" y1="17.30" x2="424.80" y2="17.30" stroke="#4a4a4a" stroke-width="1.3"/>
<text x="420.80" y="17.80" font-size="7.6" text-anchor="middle" fill="#1e1e1e" stroke="#1e1e1e" stroke-width="0.07" letter-spacing="0.05">*</text>
<line x1="407.50" y1="23.10" x2="424.80" y2="23.10" stroke="#4a4a4a" stroke-width="1.3"/>
<text x="416.45" y="23.60" font-size="7.6" text-anchor="middle" fill="#1e1e1e" stroke="#1e1e1e" stroke-width="0.07" letter-spacing="0.05">**</text>
<line x1="407.50" y1="30.00" x2="416.20" y2="30.00" stroke="#4a4a4a" stroke-width="1.3"/>
<text x="412.15" y="30.50" font-size="7.6" text-anchor="middle" fill="#1e1e1e" stroke="#1e1e1e" stroke-width="0.07" letter-spacing="0.05">**</text>
<line x1="424.80" y1="34.10" x2="433.50" y2="34.10" stroke="#4a4a4a" stroke-width="1.3"/>
<text x="429.45" y="34.60" font-size="7.6" text-anchor="middle" fill="#1e1e1e" stroke="#1e1e1e" stroke-width="0.07" letter-spacing="0.05">*</text>
<line x1="447.50" y1="37.70" x2="473.50" y2="37.70" stroke="#4a4a4a" stroke-width="1.3"/>
<text x="460.80" y="38.20" font-size="7.6" text-anchor="middle" fill="#1e1e1e" stroke="#1e1e1e" stroke-width="0.07" letter-spacing="0.05">****</text>
<line x1="456.20" y1="45.30" x2="473.50" y2="45.30" stroke="#4a4a4a" stroke-width="1.3"/>
<text x="465.15" y="45.80" font-size="7.6" text-anchor="middle" fill="#1e1e1e" stroke="#1e1e1e" stroke-width="0.07" letter-spacing="0.05">***</text>
<line x1="464.80" y1="53.20" x2="473.50" y2="53.20" stroke="#4a4a4a" stroke-width="1.3"/>
<text x="469.45" y="53.70" font-size="7.6" text-anchor="middle" fill="#1e1e1e" stroke="#1e1e1e" stroke-width="0.07" letter-spacing="0.05">****</text>
<line x1="456.20" y1="65.80" x2="464.80" y2="65.80" stroke="#4a4a4a" stroke-width="1.3"/>
<text x="460.80" y="66.30" font-size="7.6" text-anchor="middle" fill="#1e1e1e" stroke="#1e1e1e" stroke-width="0.07" letter-spacing="0.05">****</text>
<line x1="447.50" y1="72.30" x2="464.80" y2="72.30" stroke="#4a4a4a" stroke-width="1.3"/>
<text x="456.45" y="72.80" font-size="7.6" text-anchor="middle" fill="#1e1e1e" stroke="#1e1e1e" stroke-width="0.07" letter-spacing="0.05">***</text>
<line x1="447.50" y1="78.90" x2="456.20" y2="78.90" stroke="#4a4a4a" stroke-width="1.3"/>
<text x="452.15" y="79.40" font-size="7.6" text-anchor="middle" fill="#1e1e1e" stroke="#1e1e1e" stroke-width="0.07" letter-spacing="0.05">****</text>
<line x1="487.50" y1="37.70" x2="513.50" y2="37.70" stroke="#4a4a4a" stroke-width="1.3"/>
<text x="500.80" y="38.20" font-size="7.6" text-anchor="middle" fill="#1e1e1e" stroke="#1e1e1e" stroke-width="0.07" letter-spacing="0.05">*</text>
<line x1="496.20" y1="65.80" x2="504.80" y2="65.80" stroke="#4a4a4a" stroke-width="1.3"/>
<text x="500.80" y="66.30" font-size="7.6" text-anchor="middle" fill="#1e1e1e" stroke="#1e1e1e" stroke-width="0.07" letter-spacing="0.05">***</text>
<line x1="487.50" y1="72.30" x2="504.80" y2="72.30" stroke="#4a4a4a" stroke-width="1.3"/>
<text x="496.45" y="72.80" font-size="7.6" text-anchor="middle" fill="#1e1e1e" stroke="#1e1e1e" stroke-width="0.07" letter-spacing="0.05">***</text>
<line x1="487.50" y1="78.90" x2="496.20" y2="78.90" stroke="#4a4a4a" stroke-width="1.3"/>
<text x="492.15" y="79.40" font-size="7.6" text-anchor="middle" fill="#1e1e1e" stroke="#1e1e1e" stroke-width="0.07" letter-spacing="0.05">***</text>
<text x="262.00" y="202.60" font-size="8.7" text-anchor="middle" fill="#1a1a1a" stroke="#1a1a1a" stroke-width="0.07" textLength="113" lengthAdjust="spacingAndGlyphs">AML-250167 with FLZ <tspan font-style="italic">in vivo</tspan></text>
<line x1="0.00" y1="208.00" x2="520.00" y2="208.00" stroke="#444" stroke-width="1.2"/>
<defs><filter id="rough" x="-10%" y="-10%" width="120%" height="120%"><feTurbulence type="fractalNoise" baseFrequency="0.9" numOctaves="2" seed="3" result="n"/><feDisplacementMap in="SourceGraphic" in2="n" scale="2.2" xChannelSelector="R" yChannelSelector="G"/></filter></defs>
<g filter="url(#rough)" stroke-linejoin="round">
<path d="M83.1,267.7 L85.3,270.2 L88.9,272.0 L95.4,272.0 L97.8,273.0 L98.7,276.6 L100.4,283.1 L103.3,289.6 L106.5,293.2 L104.7,296.8 L103.3,301.2 L100.4,302.6 L94.6,301.9 L88.9,299.7 L81.6,296.1 L76.2,293.2 L73.8,288.2 L73.9,282.5 L75.2,277.2 L76.8,273.4 L80.9,272.0 L83.5,271.2 Z" fill="#ee6e66" stroke="#ee6e66" stroke-width="0.8"/>
<path d="M104.0,298.3 L107.6,295.7 L114.8,294.7 L120.6,296.1 L122.3,299.7 L122.3,307.0 L120.6,314.2 L117.0,320.0 L111.9,322.8 L107.6,322.8 L105.0,318.5 L103.3,312.7 L103.0,304.1 Z" fill="#d99a30" stroke="#d99a30" stroke-width="0.8"/>
<path d="M77.0,310.5 L80.0,308.5 L84.0,307.0 L88.0,305.8 L91.5,306.0 L94.0,308.0 L97.5,311.5 L101.0,315.0 L104.0,318.5 L106.2,321.4 L104.7,324.3 L99.0,325.7 L93.2,327.9 L87.4,330.8 L81.6,331.5 L76.6,329.3 L73.7,325.0 L73.3,318.5 L74.4,314.2 Z" fill="#7db842" stroke="#7db842" stroke-width="0.8"/>
<path d="M102.6,325.7 L105.5,327.2 L106.9,332.9 L107.6,338.7 L105.5,342.3 L102.6,341.6 L98.2,338.7 L96.1,334.4 L97.2,330.0 L100.4,327.2 Z" fill="#22a36c" stroke="#22a36c" stroke-width="0.6"/>
<path d="M72.3,298.3 L75.9,299.0 L76.6,304.8 L75.2,309.8 L73.7,309.1 L72.7,304.1 Z" fill="#27a3a8" stroke="#27a3a8" stroke-width="0.6"/>
<path d="M32.3,308.1 L37.7,307.3 L43.1,308.8 L47.7,311.2 L48.8,313.8 L46.9,317.3 L43.8,318.1 L41.5,316.5 L36.9,316.9 L33.8,315.8 L32.3,312.7 Z" fill="#3b9bdb" stroke="#3b9bdb" stroke-width="0.7"/>
</g>
<circle cx="105.50" cy="297.00" r="1.40" fill="#f4d2b0"/>
<circle cx="104.20" cy="300.20" r="1.00" fill="#f6c6b8"/>
<circle cx="101.20" cy="303.60" r="0.90" fill="#f4b8b0"/>
<circle cx="102.40" cy="328.00" r="1.10" fill="#8fd8b0"/>
<circle cx="99.80" cy="330.50" r="0.80" fill="#a5dcb0"/>
<circle cx="44.80" cy="313.50" r="1.40" fill="#1e5f9a"/>
<circle cx="36.50" cy="312.50" r="1.20" fill="#2a6fb0"/>
<circle cx="95.70" cy="244.10" r="0.60" fill="#d0406a"/>
<circle cx="65.10" cy="270.10" r="0.70" fill="#e06070"/>
<text x="80.90" y="287.70" font-size="5.9" text-anchor="start" fill="#1a1010" stroke="#1a1010" stroke-width="0.07" font-weight="bold" textLength="15.9" lengthAdjust="spacingAndGlyphs">AML_1</text>
<text x="104.00" y="311.60" font-size="5.9" text-anchor="start" fill="#1a1010" stroke="#1a1010" stroke-width="0.07" font-weight="bold" textLength="15.9" lengthAdjust="spacingAndGlyphs">AML_2</text>
<text x="77.00" y="323.10" font-size="5.9" text-anchor="start" fill="#1a1010" stroke="#1a1010" stroke-width="0.07" font-weight="bold" textLength="16.9" lengthAdjust="spacingAndGlyphs">AML_3</text>
<text x="94.60" y="338.60" font-size="5.9" text-anchor="start" fill="#1a1010" stroke="#1a1010" stroke-width="0.07" font-weight="bold" textLength="15.9" lengthAdjust="spacingAndGlyphs">AML_4</text>
<text x="65.80" y="304.70" font-size="5.9" text-anchor="start" fill="#1a1010" stroke="#1a1010" stroke-width="0.07" font-weight="bold" textLength="15.8" lengthAdjust="spacingAndGlyphs">AML_5</text>
<text x="32.30" y="314.40" font-size="5.9" text-anchor="start" fill="#1c3a5c" stroke="#1c3a5c" stroke-width="0.07" textLength="15.4" lengthAdjust="spacingAndGlyphs">AML_6</text>
<text x="27.70" y="297.40" font-size="6.2" text-anchor="start" fill="#1a1a1a" stroke="#1a1a1a" stroke-width="0.15" textLength="12.7" lengthAdjust="spacingAndGlyphs">Other</text>
<text x="91.00" y="242.90" font-size="6.0" text-anchor="start" fill="#1a1a1a" stroke="#1a1a1a" stroke-width="0.15" textLength="10.7" lengthAdjust="spacingAndGlyphs">Tcell</text>
<line x1="26.90" y1="359.10" x2="26.90" y2="343.50" stroke="#111" stroke-width="1.5"/>
<line x1="26.20" y1="358.90" x2="41.50" y2="358.90" stroke="#111" stroke-width="1.5"/>
<path d="M26.9,340.3 L24.7,345.3 L29.1,345.3 Z" fill="#111"/>
<path d="M45.0,358.9 L40.0,356.7 L40.0,361.1 Z" fill="#111"/>
<text x="21.40" y="349.50" font-size="8.4" text-anchor="middle" fill="#333" stroke="#333" stroke-width="0.07" textLength="27" lengthAdjust="spacingAndGlyphs" transform="rotate(-90 21.40 349.50)">UMAP_2</text>
<text x="22.20" y="369.60" font-size="8.4" text-anchor="start" fill="#333" stroke="#333" stroke-width="0.07" textLength="26.5" lengthAdjust="spacingAndGlyphs">UMAP_1</text>
<text x="151.20" y="232.10" font-size="8.6" text-anchor="start" fill="#222" stroke="#222" stroke-width="0.07" textLength="111.6" lengthAdjust="spacingAndGlyphs">Proportion of cells by sample</text>
<line x1="166.20" y1="248.10" x2="169.60" y2="248.10" stroke="#111" stroke-width="1.1"/>
<text x="164.00" y="250.40" font-size="6.5" text-anchor="end" fill="#3a3a3a" stroke="#3a3a3a" stroke-width="0.07">Tcell</text>
<line x1="166.20" y1="260.18" x2="169.60" y2="260.18" stroke="#111" stroke-width="1.1"/>
<text x="164.00" y="262.48" font-size="6.5" text-anchor="end" fill="#3a3a3a" stroke="#3a3a3a" stroke-width="0.07">Other</text>
<line x1="166.20" y1="272.26" x2="169.60" y2="272.26" stroke="#111" stroke-width="1.1"/>
<text x="164.00" y="274.56" font-size="6.5" text-anchor="end" fill="#3a3a3a" stroke="#3a3a3a" stroke-width="0.07">AML_6</text>
<line x1="166.20" y1="284.34" x2="169.60" y2="284.34" stroke="#111" stroke-width="1.1"/>
<text x="164.00" y="286.64" font-size="6.5" text-anchor="end" fill="#3a3a3a" stroke="#3a3a3a" stroke-width="0.07">AML_5</text>
<line x1="166.20" y1="296.42" x2="169.60" y2="296.42" stroke="#111" stroke-width="1.1"/>
<text x="164.00" y="298.72" font-size="6.5" text-anchor="end" fill="#3a3a3a" stroke="#3a3a3a" stroke-width="0.07">AML_4</text>
<line x1="166.20" y1="308.50" x2="169.60" y2="308.50" stroke="#111" stroke-width="1.1"/>
<text x="164.00" y="310.80" font-size="6.5" text-anchor="end" fill="#3a3a3a" stroke="#3a3a3a" stroke-width="0.07">AML_3</text>
<line x1="166.20" y1="320.58" x2="169.60" y2="320.58" stroke="#111" stroke-width="1.1"/>
<text x="164.00" y="322.88" font-size="6.5" text-anchor="end" fill="#3a3a3a" stroke="#3a3a3a" stroke-width="0.07">AML_2</text>
<line x1="166.20" y1="332.66" x2="169.60" y2="332.66" stroke="#111" stroke-width="1.1"/>
<text x="164.00" y="334.96" font-size="6.5" text-anchor="end" fill="#3a3a3a" stroke="#3a3a3a" stroke-width="0.07">AML_1</text>
<line x1="177.60" y1="340.00" x2="177.60" y2="342.60" stroke="#111" stroke-width="1.1"/>
<text x="177.60" y="352.30" font-size="6.5" text-anchor="middle" fill="#3a3a3a" stroke="#3a3a3a" stroke-width="0.07">A2</text>
<line x1="192.14" y1="340.00" x2="192.14" y2="342.60" stroke="#111" stroke-width="1.1"/>
<text x="192.14" y="352.30" font-size="6.5" text-anchor="middle" fill="#3a3a3a" stroke="#3a3a3a" stroke-width="0.07">A3</text>
<line x1="206.68" y1="340.00" x2="206.68" y2="342.60" stroke="#111" stroke-width="1.1"/>
<text x="206.68" y="352.30" font-size="6.5" text-anchor="middle" fill="#3a3a3a" stroke="#3a3a3a" stroke-width="0.07">A4</text>
<line x1="221.22" y1="340.00" x2="221.22" y2="342.60" stroke="#111" stroke-width="1.1"/>
<text x="221.22" y="352.30" font-size="6.5" text-anchor="middle" fill="#3a3a3a" stroke="#3a3a3a" stroke-width="0.07">A5</text>
<line x1="235.76" y1="340.00" x2="235.76" y2="342.60" stroke="#111" stroke-width="1.1"/>
<text x="235.76" y="352.30" font-size="6.5" text-anchor="middle" fill="#3a3a3a" stroke="#3a3a3a" stroke-width="0.07">B1</text>
<line x1="250.30" y1="340.00" x2="250.30" y2="342.60" stroke="#111" stroke-width="1.1"/>
<text x="250.30" y="352.30" font-size="6.5" text-anchor="middle" fill="#3a3a3a" stroke="#3a3a3a" stroke-width="0.07">B2</text>
<line x1="264.84" y1="340.00" x2="264.84" y2="342.60" stroke="#111" stroke-width="1.1"/>
<text x="264.84" y="352.30" font-size="6.5" text-anchor="middle" fill="#3a3a3a" stroke="#3a3a3a" stroke-width="0.07">B3</text>
<line x1="279.38" y1="340.00" x2="279.38" y2="342.60" stroke="#111" stroke-width="1.1"/>
<text x="279.38" y="352.30" font-size="6.5" text-anchor="middle" fill="#3a3a3a" stroke="#3a3a3a" stroke-width="0.07">B4</text>
<line x1="293.92" y1="340.00" x2="293.92" y2="342.60" stroke="#111" stroke-width="1.1"/>
<text x="293.92" y="352.30" font-size="6.5" text-anchor="middle" fill="#3a3a3a" stroke="#3a3a3a" stroke-width="0.07">B5</text>
<text x="168.00" y="352.30" font-size="6.5" text-anchor="end" fill="#3a3a3a" stroke="#3a3a3a" stroke-width="0.07" textLength="23.4" lengthAdjust="spacingAndGlyphs">Sample:</text>
<text x="137.70" y="288.60" font-size="7.2" text-anchor="middle" fill="#3a3a3a" stroke="#3a3a3a" stroke-width="0.07" textLength="34.5" lengthAdjust="spacingAndGlyphs" transform="rotate(-90 137.70 288.60)">Cell group</text>
<text x="177.60" y="249.30" font-size="3.8" text-anchor="middle" fill="#222" stroke="#222" stroke-width="0.07" font-weight="bold">0.02</text>
<text x="221.22" y="249.30" font-size="3.8" text-anchor="middle" fill="#222" stroke="#222" stroke-width="0.07" font-weight="bold">2.88</text>
<text x="235.76" y="249.30" font-size="3.8" text-anchor="middle" fill="#222" stroke="#222" stroke-width="0.07" font-weight="bold">1.80</text>
<text x="250.30" y="249.30" font-size="3.8" text-anchor="middle" fill="#222" stroke="#222" stroke-width="0.07" font-weight="bold">2.03</text>
<text x="264.84" y="249.30" font-size="3.8" text-anchor="middle" fill="#222" stroke="#222" stroke-width="0.07" font-weight="bold">0.15</text>
<text x="279.38" y="249.30" font-size="3.8" text-anchor="middle" fill="#222" stroke="#222" stroke-width="0.07" font-weight="bold">0.41</text>
<text x="293.92" y="249.30" font-size="3.8" text-anchor="middle" fill="#222" stroke="#222" stroke-width="0.07" font-weight="bold">0.84</text>
<text x="177.60" y="261.38" font-size="3.8" text-anchor="middle" fill="#222" stroke="#222" stroke-width="0.07" font-weight="bold">0.04</text>
<text x="192.14" y="261.38" font-size="3.8" text-anchor="middle" fill="#222" stroke="#222" stroke-width="0.07" font-weight="bold">0.05</text>
<text x="206.68" y="261.38" font-size="3.8" text-anchor="middle" fill="#222" stroke="#222" stroke-width="0.07" font-weight="bold">1.01</text>
<text x="221.22" y="261.38" font-size="3.8" text-anchor="middle" fill="#222" stroke="#222" stroke-width="0.07" font-weight="bold">0.46</text>
<text x="235.76" y="261.38" font-size="3.8" text-anchor="middle" fill="#222" stroke="#222" stroke-width="0.07" font-weight="bold">0.11</text>
<text x="264.84" y="261.38" font-size="3.8" text-anchor="middle" fill="#222" stroke="#222" stroke-width="0.07" font-weight="bold">0.08</text>
<text x="279.38" y="261.38" font-size="3.8" text-anchor="middle" fill="#222" stroke="#222" stroke-width="0.07" font-weight="bold">1.80</text>
<text x="293.92" y="261.38" font-size="3.8" text-anchor="middle" fill="#222" stroke="#222" stroke-width="0.07" font-weight="bold">1.36</text>
<text x="177.60" y="273.46" font-size="3.8" text-anchor="middle" fill="#222" stroke="#222" stroke-width="0.07" font-weight="bold">0.41</text>
<text x="192.14" y="273.46" font-size="3.8" text-anchor="middle" fill="#222" stroke="#222" stroke-width="0.07" font-weight="bold">0.80</text>
<circle cx="206.68" cy="272.26" r="4.20" fill="#7b45a0" stroke="#45255e" stroke-width="0.85"/>
<text x="206.68" y="273.46" font-size="3.8" text-anchor="middle" fill="#2a1a1a" stroke="#2a1a1a" stroke-width="0.07" font-weight="bold">7.71</text>
<text x="221.22" y="273.46" font-size="3.8" text-anchor="middle" fill="#222" stroke="#222" stroke-width="0.07" font-weight="bold">2.50</text>
<text x="235.76" y="273.46" font-size="3.8" text-anchor="middle" fill="#222" stroke="#222" stroke-width="0.07" font-weight="bold">0.84</text>
<text x="250.30" y="273.46" font-size="3.8" text-anchor="middle" fill="#222" stroke="#222" stroke-width="0.07" font-weight="bold">1.64</text>
<text x="264.84" y="273.46" font-size="3.8" text-anchor="middle" fill="#222" stroke="#222" stroke-width="0.07" font-weight="bold">1.00</text>
<circle cx="279.38" cy="272.26" r="2.60" fill="#f8f5cf" stroke="#8c8a58" stroke-width="0.85"/>
<text x="279.38" y="273.46" font-size="3.8" text-anchor="middle" fill="#2a1a1a" stroke="#2a1a1a" stroke-width="0.07" font-weight="bold">4.29</text>
<circle cx="293.92" cy="272.26" r="2.80" fill="#f8f5cf" stroke="#8c8a58" stroke-width="0.85"/>
<text x="293.92" y="273.46" font-size="3.8" text-anchor="middle" fill="#2a1a1a" stroke="#2a1a1a" stroke-width="0.07" font-weight="bold">5.27</text>
<text x="177.60" y="285.54" font-size="3.8" text-anchor="middle" fill="#222" stroke="#222" stroke-width="0.07" font-weight="bold">1.85</text>
<text x="192.14" y="285.54" font-size="3.8" text-anchor="middle" fill="#222" stroke="#222" stroke-width="0.07" font-weight="bold">1.80</text>
<text x="206.68" y="285.54" font-size="3.8" text-anchor="middle" fill="#222" stroke="#222" stroke-width="0.07" font-weight="bold">0.67</text>
<text x="221.22" y="285.54" font-size="3.8" text-anchor="middle" fill="#222" stroke="#222" stroke-width="0.07" font-weight="bold">1.64</text>
<text x="235.76" y="285.54" font-size="3.8" text-anchor="middle" fill="#222" stroke="#222" stroke-width="0.07" font-weight="bold">2.52</text>
<text x="250.30" y="285.54" font-size="3.8" text-anchor="middle" fill="#222" stroke="#222" stroke-width="0.07" font-weight="bold">3.06</text>
<text x="264.84" y="285.54" font-size="3.8" text-anchor="middle" fill="#222" stroke="#222" stroke-width="0.07" font-weight="bold">1.25</text>
<text x="279.38" y="285.54" font-size="3.8" text-anchor="middle" fill="#222" stroke="#222" stroke-width="0.07" font-weight="bold">0.73</text>
<text x="293.92" y="285.54" font-size="3.8" text-anchor="middle" fill="#222" stroke="#222" stroke-width="0.07" font-weight="bold">0.80</text>
<text x="177.60" y="297.62" font-size="3.8" text-anchor="middle" fill="#222" stroke="#222" stroke-width="0.07" font-weight="bold">2.67</text>
<circle cx="192.14" cy="296.42" r="2.70" fill="#7b45a0" stroke="#45255e" stroke-width="0.85"/>
<text x="192.14" y="297.62" font-size="3.8" text-anchor="middle" fill="#2a1a1a" stroke="#2a1a1a" stroke-width="0.07" font-weight="bold">3.39</text>
<text x="206.68" y="297.62" font-size="3.8" text-anchor="middle" fill="#222" stroke="#222" stroke-width="0.07" font-weight="bold">2.61</text>
<text x="221.22" y="297.62" font-size="3.8" text-anchor="middle" fill="#222" stroke="#222" stroke-width="0.07" font-weight="bold">2.00</text>
<text x="235.76" y="297.62" font-size="3.8" text-anchor="middle" fill="#222" stroke="#222" stroke-width="0.07" font-weight="bold">2.86</text>
<text x="250.30" y="297.62" font-size="3.8" text-anchor="middle" fill="#222" stroke="#222" stroke-width="0.07" font-weight="bold">2.82</text>
<circle cx="264.84" cy="296.42" r="2.60" fill="#f8f5cf" stroke="#8c8a58" stroke-width="0.85"/>
<text x="264.84" y="297.62" font-size="3.8" text-anchor="middle" fill="#2a1a1a" stroke="#2a1a1a" stroke-width="0.07" font-weight="bold">4.13</text>
<text x="279.38" y="297.62" font-size="3.8" text-anchor="middle" fill="#222" stroke="#222" stroke-width="0.07" font-weight="bold">2.36</text>
<text x="293.92" y="297.62" font-size="3.8" text-anchor="middle" fill="#222" stroke="#222" stroke-width="0.07" font-weight="bold">3.21</text>
<text x="177.60" y="309.70" font-size="3.8" text-anchor="middle" fill="#222" stroke="#222" stroke-width="0.07" font-weight="bold">0.41</text>
<text x="192.14" y="309.70" font-size="3.8" text-anchor="middle" fill="#222" stroke="#222" stroke-width="0.07" font-weight="bold">0.36</text>
<text x="221.22" y="309.70" font-size="3.8" text-anchor="middle" fill="#222" stroke="#222" stroke-width="0.07" font-weight="bold">0.83</text>
<text x="235.76" y="309.70" font-size="3.8" text-anchor="middle" fill="#222" stroke="#222" stroke-width="0.07" font-weight="bold">0.42</text>
<text x="250.30" y="309.70" font-size="3.8" text-anchor="middle" fill="#222" stroke="#222" stroke-width="0.07" font-weight="bold">0.45</text>
<circle cx="264.84" cy="308.50" r="7.40" fill="#f8f5cf" stroke="#8c8a58" stroke-width="0.85"/>
<text x="264.84" y="309.70" font-size="3.8" text-anchor="middle" fill="#2a1a1a" stroke="#2a1a1a" stroke-width="0.07" font-weight="bold">85.50</text>
<circle cx="279.38" cy="308.50" r="6.80" fill="#f8f5cf" stroke="#8c8a58" stroke-width="0.85"/>
<text x="279.38" y="309.70" font-size="3.8" text-anchor="middle" fill="#2a1a1a" stroke="#2a1a1a" stroke-width="0.07" font-weight="bold">75.81</text>
<circle cx="293.92" cy="308.50" r="6.90" fill="#f8f5cf" stroke="#8c8a58" stroke-width="0.85"/>
<text x="293.92" y="309.70" font-size="3.8" text-anchor="middle" fill="#2a1a1a" stroke="#2a1a1a" stroke-width="0.07" font-weight="bold">76.86</text>
<circle cx="177.60" cy="320.58" r="4.80" fill="#878787" stroke="#4a4a4a" stroke-width="0.85"/>
<text x="177.60" y="321.78" font-size="3.8" text-anchor="middle" fill="#2a1a1a" stroke="#2a1a1a" stroke-width="0.07" font-weight="bold">21.59</text>
<circle cx="192.14" cy="320.58" r="4.60" fill="#7b45a0" stroke="#45255e" stroke-width="0.85"/>
<text x="192.14" y="321.78" font-size="3.8" text-anchor="middle" fill="#2a1a1a" stroke="#2a1a1a" stroke-width="0.07" font-weight="bold">20.75</text>
<circle cx="206.68" cy="320.58" r="4.30" fill="#7b45a0" stroke="#45255e" stroke-width="0.85"/>
<text x="206.68" y="321.78" font-size="3.8" text-anchor="middle" fill="#2a1a1a" stroke="#2a1a1a" stroke-width="0.07" font-weight="bold">19.79</text>
<circle cx="221.22" cy="320.58" r="4.80" fill="#f07e6e" stroke="#a84a44" stroke-width="0.85"/>
<text x="221.22" y="321.78" font-size="3.8" text-anchor="middle" fill="#2a1a1a" stroke="#2a1a1a" stroke-width="0.07" font-weight="bold">21.04</text>
<circle cx="235.76" cy="320.58" r="4.50" fill="#f07e6e" stroke="#a84a44" stroke-width="0.85"/>
<text x="235.76" y="321.78" font-size="3.8" text-anchor="middle" fill="#2a1a1a" stroke="#2a1a1a" stroke-width="0.07" font-weight="bold">21.69</text>
<circle cx="250.30" cy="320.58" r="4.30" fill="#f07e6e" stroke="#a84a44" stroke-width="0.85"/>
<text x="250.30" y="321.78" font-size="3.8" text-anchor="middle" fill="#2a1a1a" stroke="#2a1a1a" stroke-width="0.07" font-weight="bold">17.79</text>
<text x="264.84" y="321.78" font-size="3.8" text-anchor="middle" fill="#222" stroke="#222" stroke-width="0.07" font-weight="bold">0.80</text>
<text x="279.38" y="321.78" font-size="3.8" text-anchor="middle" fill="#222" stroke="#222" stroke-width="0.07" font-weight="bold">2.20</text>
<text x="293.92" y="321.78" font-size="3.8" text-anchor="middle" fill="#222" stroke="#222" stroke-width="0.07" font-weight="bold">0.74</text>
<circle cx="177.60" cy="332.66" r="5.50" fill="#878787" stroke="#4a4a4a" stroke-width="0.85"/>
<text x="177.60" y="333.86" font-size="3.8" text-anchor="middle" fill="#2a1a1a" stroke="#2a1a1a" stroke-width="0.07" font-weight="bold">63.99</text>
<circle cx="192.14" cy="332.66" r="6.00" fill="#7b45a0" stroke="#45255e" stroke-width="0.85"/>
<text x="192.14" y="333.86" font-size="3.8" text-anchor="middle" fill="#2a1a1a" stroke="#2a1a1a" stroke-width="0.07" font-weight="bold">69.75</text>
<circle cx="206.68" cy="332.66" r="5.40" fill="#7b45a0" stroke="#45255e" stroke-width="0.85"/>
<text x="206.68" y="333.86" font-size="3.8" text-anchor="middle" fill="#2a1a1a" stroke="#2a1a1a" stroke-width="0.07" font-weight="bold">61.76</text>
<circle cx="221.22" cy="332.66" r="5.80" fill="#f07e6e" stroke="#a84a44" stroke-width="0.85"/>
<text x="221.22" y="333.86" font-size="3.8" text-anchor="middle" fill="#2a1a1a" stroke="#2a1a1a" stroke-width="0.07" font-weight="bold">60.46</text>
<circle cx="235.76" cy="332.66" r="6.00" fill="#f07e6e" stroke="#a84a44" stroke-width="0.85"/>
<text x="235.76" y="333.86" font-size="3.8" text-anchor="middle" fill="#2a1a1a" stroke="#2a1a1a" stroke-width="0.07" font-weight="bold">66.54</text>
<circle cx="250.30" cy="332.66" r="6.20" fill="#f07e6e" stroke="#a84a44" stroke-width="0.85"/>
<text x="250.30" y="333.86" font-size="3.8" text-anchor="middle" fill="#2a1a1a" stroke="#2a1a1a" stroke-width="0.07" font-weight="bold">67.82</text>
<text x="264.84" y="333.86" font-size="3.8" text-anchor="middle" fill="#222" stroke="#222" stroke-width="0.07" font-weight="bold">2.06</text>
<text x="279.38" y="333.86" font-size="3.8" text-anchor="middle" fill="#222" stroke="#222" stroke-width="0.07" font-weight="bold">3.31</text>
<text x="293.92" y="333.86" font-size="3.8" text-anchor="middle" fill="#222" stroke="#222" stroke-width="0.07" font-weight="bold">1.85</text>
<rect x="169.60" y="241.30" width="132.70" height="98.70" fill="none" stroke="#222" stroke-width="1.1"/>
<text x="166.50" y="364.40" font-size="6.5" text-anchor="end" fill="#3a3a3a" stroke="#3a3a3a" stroke-width="0.07">AML</text>
<text x="166.50" y="372.90" font-size="6.5" text-anchor="end" fill="#3a3a3a" stroke="#3a3a3a" stroke-width="0.07">3huT</text>
<text x="166.50" y="380.70" font-size="6.5" text-anchor="end" fill="#3a3a3a" stroke="#3a3a3a" stroke-width="0.07">DART</text>
<rect x="174.70" y="359.20" width="5.80" height="5.80" fill="#c4c4c4"/>
<rect x="189.24" y="359.20" width="5.80" height="5.80" fill="#c4c4c4"/>
<rect x="203.78" y="359.20" width="5.80" height="5.80" fill="#c4c4c4"/>
<rect x="218.32" y="359.20" width="5.80" height="5.80" fill="#c4c4c4"/>
<rect x="232.86" y="359.20" width="5.80" height="5.80" fill="#c4c4c4"/>
<rect x="247.40" y="359.20" width="5.80" height="5.80" fill="#c4c4c4"/>
<rect x="261.94" y="359.20" width="5.80" height="5.80" fill="#c4c4c4"/>
<rect x="276.48" y="359.20" width="5.80" height="5.80" fill="#c4c4c4"/>
<rect x="291.02" y="359.20" width="5.80" height="5.80" fill="#c4c4c4"/>
<rect x="174.90" y="367.90" width="5.40" height="5.40" fill="#fff" stroke="#222" stroke-width="0.75"/>
<rect x="189.44" y="367.90" width="5.40" height="5.40" fill="#fff" stroke="#222" stroke-width="0.75"/>
<rect x="203.98" y="367.90" width="5.40" height="5.40" fill="#fff" stroke="#222" stroke-width="0.75"/>
<rect x="218.32" y="367.70" width="5.80" height="5.80" fill="#c4c4c4"/>
<rect x="232.86" y="367.70" width="5.80" height="5.80" fill="#c4c4c4"/>
<rect x="247.40" y="367.70" width="5.80" height="5.80" fill="#c4c4c4"/>
<rect x="261.94" y="367.70" width="5.80" height="5.80" fill="#c4c4c4"/>
<rect x="276.48" y="367.70" width="5.80" height="5.80" fill="#c4c4c4"/>
<rect x="291.02" y="367.70" width="5.80" height="5.80" fill="#c4c4c4"/>
<rect x="174.90" y="375.70" width="5.40" height="5.40" fill="#fff" stroke="#222" stroke-width="0.75"/>
<rect x="189.24" y="375.50" width="5.80" height="5.80" fill="#c4c4c4"/>
<rect x="203.78" y="375.50" width="5.80" height="5.80" fill="#c4c4c4"/>
<rect x="218.52" y="375.70" width="5.40" height="5.40" fill="#fff" stroke="#222" stroke-width="0.75"/>
<rect x="233.06" y="375.70" width="5.40" height="5.40" fill="#fff" stroke="#222" stroke-width="0.75"/>
<rect x="247.60" y="375.70" width="5.40" height="5.40" fill="#fff" stroke="#222" stroke-width="0.75"/>
<rect x="261.94" y="375.50" width="5.80" height="5.80" fill="#c4c4c4"/>
<rect x="276.48" y="375.50" width="5.80" height="5.80" fill="#c4c4c4"/>
<rect x="291.02" y="375.50" width="5.80" height="5.80" fill="#c4c4c4"/>
<rect x="169.10" y="356.80" width="133.40" height="26.80" fill="none" stroke="#222" stroke-width="1.2"/>
<text x="138.60" y="370.50" font-size="7.2" text-anchor="middle" fill="#3a3a3a" stroke="#3a3a3a" stroke-width="0.07" textLength="30" lengthAdjust="spacingAndGlyphs" transform="rotate(-90 138.60 370.50)">Condition</text>
<text x="306.20" y="239.60" font-size="6.2" text-anchor="start" fill="#3a3a3a" stroke="#3a3a3a" stroke-width="0.07" textLength="50.7" lengthAdjust="spacingAndGlyphs">Proportion of Cells</text>
<circle cx="316.00" cy="246.20" r="3.60" fill="none" stroke="#1a1a1a" stroke-width="0.85"/>
<text x="326.60" y="248.50" font-size="6.6" text-anchor="start" fill="#3a3a3a" stroke="#3a3a3a" stroke-width="0.07">20</text>
<circle cx="316.00" cy="257.60" r="5.00" fill="none" stroke="#1a1a1a" stroke-width="0.85"/>
<text x="326.60" y="259.90" font-size="6.6" text-anchor="start" fill="#3a3a3a" stroke="#3a3a3a" stroke-width="0.07">40</text>
<circle cx="316.00" cy="273.50" r="6.40" fill="none" stroke="#1a1a1a" stroke-width="0.85"/>
<text x="326.60" y="275.80" font-size="6.6" text-anchor="start" fill="#3a3a3a" stroke="#3a3a3a" stroke-width="0.07">60</text>
<circle cx="316.00" cy="291.60" r="7.10" fill="none" stroke="#1a1a1a" stroke-width="0.85"/>
<text x="326.60" y="293.90" font-size="6.6" text-anchor="start" fill="#3a3a3a" stroke="#3a3a3a" stroke-width="0.07">80</text>
<text x="306.20" y="310.20" font-size="6.2" text-anchor="start" fill="#3a3a3a" stroke="#3a3a3a" stroke-width="0.07" textLength="36" lengthAdjust="spacingAndGlyphs">Experimental</text>
<text x="306.20" y="317.30" font-size="6.2" text-anchor="start" fill="#3a3a3a" stroke="#3a3a3a" stroke-width="0.07" textLength="26" lengthAdjust="spacingAndGlyphs">Condition</text>
<circle cx="309.30" cy="322.20" r="2.60" fill="#6b7d5f" stroke="#3c4a34" stroke-width="0.7"/>
<text x="315.80" y="324.40" font-size="5.9" text-anchor="start" fill="#3a3a3a" stroke="#3a3a3a" stroke-width="0.07">AMLNSG_-_-</text>
<circle cx="309.30" cy="328.70" r="2.60" fill="#7a4b9b" stroke="#3f2556" stroke-width="0.7"/>
<text x="315.80" y="330.90" font-size="5.9" text-anchor="start" fill="#3a3a3a" stroke="#3a3a3a" stroke-width="0.07">AMLNSG_-_DART</text>
<circle cx="309.30" cy="335.00" r="2.60" fill="#dc8a6c" stroke="#8a4a3a" stroke-width="0.7"/>
<text x="315.80" y="337.20" font-size="5.9" text-anchor="start" fill="#3a3a3a" stroke="#3a3a3a" stroke-width="0.07">AMLNSG_3huT_-</text>
<circle cx="309.30" cy="341.20" r="2.60" fill="#f6f1d8" stroke="#5a4a3a" stroke-width="0.7"/>
<text x="315.80" y="343.40" font-size="5.9" text-anchor="start" fill="#3a3a3a" stroke="#3a3a3a" stroke-width="0.07">AMLNSG_3huT_DART</text>
<rect x="306.30" y="362.40" width="5.60" height="5.60" fill="#c4c4c4"/>
<text x="313.80" y="367.60" font-size="6.2" text-anchor="start" fill="#3a3a3a" stroke="#3a3a3a" stroke-width="0.07">Present</text>
<rect x="306.50" y="371.80" width="5.20" height="5.20" fill="#fff" stroke="#222" stroke-width="0.75"/>
<text x="313.80" y="376.60" font-size="6.2" text-anchor="start" fill="#3a3a3a" stroke="#3a3a3a" stroke-width="0.07">Absent</text>
<text x="474.30" y="233.70" font-size="7.0" text-anchor="middle" fill="#333" stroke="#333" stroke-width="0.07" textLength="36.8" lengthAdjust="spacingAndGlyphs">Avg_log2FC</text>
<line x1="428.10" y1="252.80" x2="520.00" y2="252.80" stroke="#222" stroke-width="1.1"/>
<line x1="432.20" y1="250.30" x2="432.20" y2="252.80" stroke="#222" stroke-width="0.9"/>
<text x="432.20" y="245.00" font-size="6.4" text-anchor="middle" fill="#333" stroke="#333" stroke-width="0.07">0</text>
<line x1="453.30" y1="250.30" x2="453.30" y2="252.80" stroke="#222" stroke-width="0.9"/>
<text x="453.30" y="245.00" font-size="6.4" text-anchor="middle" fill="#333" stroke="#333" stroke-width="0.07">1</text>
<line x1="474.40" y1="250.30" x2="474.40" y2="252.80" stroke="#222" stroke-width="0.9"/>
<text x="474.40" y="245.00" font-size="6.4" text-anchor="middle" fill="#333" stroke="#333" stroke-width="0.07">2</text>
<line x1="495.50" y1="250.30" x2="495.50" y2="252.80" stroke="#222" stroke-width="0.9"/>
<text x="495.50" y="245.00" font-size="6.4" text-anchor="middle" fill="#333" stroke="#333" stroke-width="0.07">3</text>
<line x1="516.60" y1="250.30" x2="516.60" y2="252.80" stroke="#222" stroke-width="0.9"/>
<text x="516.60" y="245.00" font-size="6.4" text-anchor="middle" fill="#333" stroke="#333" stroke-width="0.07">4</text>
<line x1="428.10" y1="252.80" x2="428.10" y2="484.50" stroke="#222" stroke-width="1.1"/>
<line x1="425.10" y1="255.40" x2="428.10" y2="255.40" stroke="#111" stroke-width="1.0"/>
<text x="422.00" y="257.40" font-size="5.8" text-anchor="end" fill="#3c3c3c" stroke="#3c3c3c" stroke-width="0.07">HLA-B</text>
<line x1="432.20" y1="255.40" x2="514.49" y2="255.40" stroke="#505050" stroke-width="1.35"/>
<circle cx="514.49" cy="255.40" r="2.10" fill="#e3646a"/>
<line x1="425.10" y1="261.53" x2="428.10" y2="261.53" stroke="#111" stroke-width="1.0"/>
<text x="422.00" y="263.53" font-size="5.8" text-anchor="end" fill="#3c3c3c" stroke="#3c3c3c" stroke-width="0.07">HLA-DRA</text>
<line x1="432.20" y1="261.53" x2="505.21" y2="261.53" stroke="#505050" stroke-width="1.35"/>
<circle cx="505.21" cy="261.53" r="2.10" fill="#e3646a"/>
<line x1="425.10" y1="267.66" x2="428.10" y2="267.66" stroke="#111" stroke-width="1.0"/>
<text x="422.00" y="269.66" font-size="5.8" text-anchor="end" fill="#3c3c3c" stroke="#3c3c3c" stroke-width="0.07">STAT1</text>
<line x1="432.20" y1="267.66" x2="497.61" y2="267.66" stroke="#505050" stroke-width="1.35"/>
<circle cx="497.61" cy="267.66" r="2.10" fill="#e3646a"/>
<line x1="425.10" y1="273.79" x2="428.10" y2="273.79" stroke="#111" stroke-width="1.0"/>
<text x="422.00" y="275.79" font-size="5.8" text-anchor="end" fill="#3c3c3c" stroke="#3c3c3c" stroke-width="0.07">CD74</text>
<line x1="432.20" y1="273.79" x2="487.06" y2="273.79" stroke="#505050" stroke-width="1.35"/>
<circle cx="487.06" cy="273.79" r="2.10" fill="#e3646a"/>
<line x1="425.10" y1="279.92" x2="428.10" y2="279.92" stroke="#111" stroke-width="1.0"/>
<text x="422.00" y="281.92" font-size="5.8" text-anchor="end" fill="#3c3c3c" stroke="#3c3c3c" stroke-width="0.07">IFI6</text>
<line x1="432.20" y1="279.92" x2="482.21" y2="279.92" stroke="#505050" stroke-width="1.35"/>
<circle cx="482.21" cy="279.92" r="2.10" fill="#e3646a"/>
<line x1="425.10" y1="286.05" x2="428.10" y2="286.05" stroke="#111" stroke-width="1.0"/>
<text x="422.00" y="288.05" font-size="5.8" text-anchor="end" fill="#3c3c3c" stroke="#3c3c3c" stroke-width="0.07">IRF1</text>
<line x1="432.20" y1="286.05" x2="482.21" y2="286.05" stroke="#505050" stroke-width="1.35"/>
<circle cx="482.21" cy="286.05" r="2.10" fill="#e3646a"/>
<line x1="425.10" y1="292.18" x2="428.10" y2="292.18" stroke="#111" stroke-width="1.0"/>
<text x="422.00" y="294.18" font-size="5.8" text-anchor="end" fill="#3c3c3c" stroke="#3c3c3c" stroke-width="0.07">GBP1</text>
<line x1="432.20" y1="292.18" x2="481.78" y2="292.18" stroke="#505050" stroke-width="1.35"/>
<circle cx="481.78" cy="292.18" r="2.10" fill="#e3646a"/>
<line x1="425.10" y1="298.31" x2="428.10" y2="298.31" stroke="#111" stroke-width="1.0"/>
<text x="422.00" y="300.31" font-size="5.8" text-anchor="end" fill="#3c3c3c" stroke="#3c3c3c" stroke-width="0.07">TAP1</text>
<line x1="432.20" y1="298.31" x2="479.68" y2="298.31" stroke="#505050" stroke-width="1.35"/>
<circle cx="479.68" cy="298.31" r="2.10" fill="#e3646a"/>
<line x1="425.10" y1="304.44" x2="428.10" y2="304.44" stroke="#111" stroke-width="1.0"/>
<text x="422.00" y="306.44" font-size="5.8" text-anchor="end" fill="#3c3c3c" stroke="#3c3c3c" stroke-width="0.07">B2M</text>
<line x1="432.20" y1="304.44" x2="478.62" y2="304.44" stroke="#505050" stroke-width="1.35"/>
<circle cx="478.62" cy="304.44" r="2.10" fill="#e3646a"/>
<line x1="425.10" y1="310.57" x2="428.10" y2="310.57" stroke="#111" stroke-width="1.0"/>
<text x="422.00" y="312.57" font-size="5.8" text-anchor="end" fill="#3c3c3c" stroke="#3c3c3c" stroke-width="0.07">HLA-E</text>
<line x1="432.20" y1="310.57" x2="478.20" y2="310.57" stroke="#505050" stroke-width="1.35"/>
<circle cx="478.20" cy="310.57" r="2.10" fill="#e3646a"/>
<line x1="425.10" y1="316.70" x2="428.10" y2="316.70" stroke="#111" stroke-width="1.0"/>
<text x="422.00" y="318.70" font-size="5.8" text-anchor="end" fill="#3c3c3c" stroke="#3c3c3c" stroke-width="0.07">HLA-C</text>
<line x1="432.20" y1="316.70" x2="478.20" y2="316.70" stroke="#505050" stroke-width="1.35"/>
<circle cx="478.20" cy="316.70" r="2.10" fill="#e3646a"/>
<line x1="425.10" y1="322.83" x2="428.10" y2="322.83" stroke="#111" stroke-width="1.0"/>
<text x="422.00" y="324.83" font-size="5.8" text-anchor="end" fill="#3c3c3c" stroke="#3c3c3c" stroke-width="0.07">HLA-A</text>
<line x1="432.20" y1="322.83" x2="473.77" y2="322.83" stroke="#505050" stroke-width="1.35"/>
<circle cx="473.77" cy="322.83" r="2.10" fill="#e3646a"/>
<line x1="425.10" y1="328.96" x2="428.10" y2="328.96" stroke="#111" stroke-width="1.0"/>
<text x="422.00" y="330.96" font-size="5.8" text-anchor="end" fill="#3c3c3c" stroke="#3c3c3c" stroke-width="0.07">PSMB9</text>
<line x1="432.20" y1="328.96" x2="473.77" y2="328.96" stroke="#505050" stroke-width="1.35"/>
<circle cx="473.77" cy="328.96" r="2.10" fill="#e3646a"/>
<line x1="425.10" y1="335.09" x2="428.10" y2="335.09" stroke="#111" stroke-width="1.0"/>
<text x="422.00" y="337.09" font-size="5.8" text-anchor="end" fill="#3c3c3c" stroke="#3c3c3c" stroke-width="0.07">HLA-DRB1</text>
<line x1="432.20" y1="335.09" x2="472.92" y2="335.09" stroke="#505050" stroke-width="1.35"/>
<circle cx="472.92" cy="335.09" r="2.10" fill="#e3646a"/>
<line x1="425.10" y1="341.22" x2="428.10" y2="341.22" stroke="#111" stroke-width="1.0"/>
<text x="422.00" y="343.22" font-size="5.8" text-anchor="end" fill="#3c3c3c" stroke="#3c3c3c" stroke-width="0.07">BST2</text>
<line x1="432.20" y1="341.22" x2="472.29" y2="341.22" stroke="#505050" stroke-width="1.35"/>
<circle cx="472.29" cy="341.22" r="2.10" fill="#e3646a"/>
<line x1="425.10" y1="347.35" x2="428.10" y2="347.35" stroke="#111" stroke-width="1.0"/>
<text x="422.00" y="349.35" font-size="5.8" text-anchor="end" fill="#3c3c3c" stroke="#3c3c3c" stroke-width="0.07">EPSTI1</text>
<line x1="432.20" y1="347.35" x2="470.18" y2="347.35" stroke="#505050" stroke-width="1.35"/>
<circle cx="470.18" cy="347.35" r="2.10" fill="#e3646a"/>
<line x1="425.10" y1="353.48" x2="428.10" y2="353.48" stroke="#111" stroke-width="1.0"/>
<text x="422.00" y="355.48" font-size="5.8" text-anchor="end" fill="#3c3c3c" stroke="#3c3c3c" stroke-width="0.07">PARP14</text>
<line x1="432.20" y1="353.48" x2="468.91" y2="353.48" stroke="#505050" stroke-width="1.35"/>
<circle cx="468.91" cy="353.48" r="2.10" fill="#e3646a"/>
<line x1="425.10" y1="359.61" x2="428.10" y2="359.61" stroke="#111" stroke-width="1.0"/>
<text x="422.00" y="361.61" font-size="5.8" text-anchor="end" fill="#3c3c3c" stroke="#3c3c3c" stroke-width="0.07">HLA-DPB1</text>
<line x1="432.20" y1="359.61" x2="468.28" y2="359.61" stroke="#505050" stroke-width="1.35"/>
<circle cx="468.28" cy="359.61" r="2.10" fill="#e3646a"/>
<line x1="425.10" y1="365.74" x2="428.10" y2="365.74" stroke="#111" stroke-width="1.0"/>
<text x="422.00" y="367.74" font-size="5.8" text-anchor="end" fill="#3c3c3c" stroke="#3c3c3c" stroke-width="0.07">ISG15</text>
<line x1="432.20" y1="365.74" x2="468.28" y2="365.74" stroke="#505050" stroke-width="1.35"/>
<circle cx="468.28" cy="365.74" r="2.10" fill="#e3646a"/>
<line x1="425.10" y1="371.87" x2="428.10" y2="371.87" stroke="#111" stroke-width="1.0"/>
<text x="422.00" y="373.87" font-size="5.8" text-anchor="end" fill="#3c3c3c" stroke="#3c3c3c" stroke-width="0.07">WARS</text>
<line x1="432.20" y1="371.87" x2="468.07" y2="371.87" stroke="#505050" stroke-width="1.35"/>
<circle cx="468.07" cy="371.87" r="2.10" fill="#e3646a"/>
<line x1="425.10" y1="378.00" x2="428.10" y2="378.00" stroke="#111" stroke-width="1.0"/>
<text x="422.00" y="380.00" font-size="5.8" text-anchor="end" fill="#3c3c3c" stroke="#3c3c3c" stroke-width="0.07">GBP4</text>
<line x1="432.20" y1="378.00" x2="467.01" y2="378.00" stroke="#505050" stroke-width="1.35"/>
<circle cx="467.01" cy="378.00" r="2.10" fill="#e3646a"/>
<line x1="425.10" y1="384.13" x2="428.10" y2="384.13" stroke="#111" stroke-width="1.0"/>
<text x="422.00" y="386.13" font-size="5.8" text-anchor="end" fill="#3c3c3c" stroke="#3c3c3c" stroke-width="0.07">HLA-DPA1</text>
<line x1="432.20" y1="384.13" x2="463.43" y2="384.13" stroke="#505050" stroke-width="1.35"/>
<circle cx="463.43" cy="384.13" r="2.10" fill="#e3646a"/>
<line x1="425.10" y1="390.26" x2="428.10" y2="390.26" stroke="#111" stroke-width="1.0"/>
<text x="422.00" y="392.26" font-size="5.8" text-anchor="end" fill="#3c3c3c" stroke="#3c3c3c" stroke-width="0.07">XAF1</text>
<line x1="432.20" y1="390.26" x2="463.01" y2="390.26" stroke="#505050" stroke-width="1.35"/>
<circle cx="463.01" cy="390.26" r="2.10" fill="#e3646a"/>
<line x1="425.10" y1="396.39" x2="428.10" y2="396.39" stroke="#111" stroke-width="1.0"/>
<text x="422.00" y="398.39" font-size="5.8" text-anchor="end" fill="#3c3c3c" stroke="#3c3c3c" stroke-width="0.07">MX1</text>
<line x1="432.20" y1="396.39" x2="462.16" y2="396.39" stroke="#505050" stroke-width="1.35"/>
<circle cx="462.16" cy="396.39" r="2.10" fill="#e3646a"/>
<line x1="425.10" y1="402.52" x2="428.10" y2="402.52" stroke="#111" stroke-width="1.0"/>
<text x="422.00" y="404.52" font-size="5.8" text-anchor="end" fill="#3c3c3c" stroke="#3c3c3c" stroke-width="0.07">HLA-F</text>
<line x1="432.20" y1="402.52" x2="461.53" y2="402.52" stroke="#505050" stroke-width="1.35"/>
<circle cx="461.53" cy="402.52" r="2.10" fill="#e3646a"/>
<line x1="425.10" y1="408.65" x2="428.10" y2="408.65" stroke="#111" stroke-width="1.0"/>
<text x="422.00" y="410.65" font-size="5.8" text-anchor="end" fill="#3c3c3c" stroke="#3c3c3c" stroke-width="0.07">PSMB8</text>
<line x1="432.20" y1="408.65" x2="460.26" y2="408.65" stroke="#505050" stroke-width="1.35"/>
<circle cx="460.26" cy="408.65" r="2.10" fill="#e3646a"/>
<line x1="425.10" y1="414.78" x2="428.10" y2="414.78" stroke="#111" stroke-width="1.0"/>
<text x="422.00" y="416.78" font-size="5.8" text-anchor="end" fill="#3c3c3c" stroke="#3c3c3c" stroke-width="0.07">PLAAT4</text>
<line x1="432.20" y1="414.78" x2="458.79" y2="414.78" stroke="#505050" stroke-width="1.35"/>
<circle cx="458.79" cy="414.78" r="2.10" fill="#e3646a"/>
<line x1="425.10" y1="420.91" x2="428.10" y2="420.91" stroke="#111" stroke-width="1.0"/>
<text x="422.00" y="422.91" font-size="5.8" text-anchor="end" fill="#3c3c3c" stroke="#3c3c3c" stroke-width="0.07">PSME2</text>
<line x1="432.20" y1="420.91" x2="458.57" y2="420.91" stroke="#505050" stroke-width="1.35"/>
<circle cx="458.57" cy="420.91" r="2.10" fill="#e3646a"/>
<line x1="425.10" y1="427.04" x2="428.10" y2="427.04" stroke="#111" stroke-width="1.0"/>
<text x="422.00" y="429.04" font-size="5.8" text-anchor="end" fill="#3c3c3c" stroke="#3c3c3c" stroke-width="0.07">UBE2L6</text>
<line x1="432.20" y1="427.04" x2="458.15" y2="427.04" stroke="#505050" stroke-width="1.35"/>
<circle cx="458.15" cy="427.04" r="2.10" fill="#e3646a"/>
<line x1="425.10" y1="433.17" x2="428.10" y2="433.17" stroke="#111" stroke-width="1.0"/>
<text x="422.00" y="435.17" font-size="5.8" text-anchor="end" fill="#3c3c3c" stroke="#3c3c3c" stroke-width="0.07">APOL6</text>
<line x1="432.20" y1="433.17" x2="458.15" y2="433.17" stroke="#505050" stroke-width="1.35"/>
<circle cx="458.15" cy="433.17" r="2.10" fill="#e3646a"/>
<line x1="425.10" y1="439.30" x2="428.10" y2="439.30" stroke="#111" stroke-width="1.0"/>
<text x="422.00" y="441.30" font-size="5.8" text-anchor="end" fill="#3c3c3c" stroke="#3c3c3c" stroke-width="0.07">GBP5</text>
<line x1="432.20" y1="439.30" x2="456.68" y2="439.30" stroke="#505050" stroke-width="1.35"/>
<circle cx="456.68" cy="439.30" r="2.10" fill="#e3646a"/>
<line x1="425.10" y1="445.43" x2="428.10" y2="445.43" stroke="#111" stroke-width="1.0"/>
<text x="422.00" y="447.43" font-size="5.8" text-anchor="end" fill="#3c3c3c" stroke="#3c3c3c" stroke-width="0.07">NFE2L3</text>
<line x1="432.20" y1="445.43" x2="456.25" y2="445.43" stroke="#505050" stroke-width="1.35"/>
<circle cx="456.25" cy="445.43" r="2.10" fill="#e3646a"/>
<line x1="425.10" y1="451.56" x2="428.10" y2="451.56" stroke="#111" stroke-width="1.0"/>
<text x="422.00" y="453.56" font-size="5.8" text-anchor="end" fill="#3c3c3c" stroke="#3c3c3c" stroke-width="0.07">RGS1</text>
<line x1="432.20" y1="451.56" x2="455.83" y2="451.56" stroke="#505050" stroke-width="1.35"/>
<circle cx="455.83" cy="451.56" r="2.10" fill="#e3646a"/>
<line x1="425.10" y1="457.69" x2="428.10" y2="457.69" stroke="#111" stroke-width="1.0"/>
<text x="422.00" y="459.69" font-size="5.8" text-anchor="end" fill="#3c3c3c" stroke="#3c3c3c" stroke-width="0.07">HAPLN3</text>
<line x1="432.20" y1="457.69" x2="455.62" y2="457.69" stroke="#505050" stroke-width="1.35"/>
<circle cx="455.62" cy="457.69" r="2.10" fill="#e3646a"/>
<line x1="425.10" y1="463.82" x2="428.10" y2="463.82" stroke="#111" stroke-width="1.0"/>
<text x="422.00" y="465.82" font-size="5.8" text-anchor="end" fill="#3c3c3c" stroke="#3c3c3c" stroke-width="0.07">IFI44L</text>
<line x1="432.20" y1="463.82" x2="455.41" y2="463.82" stroke="#505050" stroke-width="1.35"/>
<circle cx="455.41" cy="463.82" r="2.10" fill="#e3646a"/>
<line x1="425.10" y1="469.95" x2="428.10" y2="469.95" stroke="#111" stroke-width="1.0"/>
<text x="422.00" y="471.95" font-size="5.8" text-anchor="end" fill="#3c3c3c" stroke="#3c3c3c" stroke-width="0.07">LY6E</text>
<line x1="432.20" y1="469.95" x2="454.57" y2="469.95" stroke="#505050" stroke-width="1.35"/>
<circle cx="454.57" cy="469.95" r="2.10" fill="#e3646a"/>
<line x1="425.10" y1="476.08" x2="428.10" y2="476.08" stroke="#111" stroke-width="1.0"/>
<text x="422.00" y="478.08" font-size="5.8" text-anchor="end" fill="#3c3c3c" stroke="#3c3c3c" stroke-width="0.07">PARP9</text>
<line x1="432.20" y1="476.08" x2="453.93" y2="476.08" stroke="#505050" stroke-width="1.35"/>
<circle cx="453.93" cy="476.08" r="2.10" fill="#e3646a"/>
<line x1="425.10" y1="482.21" x2="428.10" y2="482.21" stroke="#111" stroke-width="1.0"/>
<text x="422.00" y="484.21" font-size="5.8" text-anchor="end" fill="#3c3c3c" stroke="#3c3c3c" stroke-width="0.07">LGALS3BP</text>
<line x1="432.20" y1="482.21" x2="453.93" y2="482.21" stroke="#505050" stroke-width="1.35"/>
<circle cx="453.93" cy="482.21" r="2.10" fill="#e3646a"/>
<text x="14.50" y="408.80" font-size="8.6" text-anchor="start" fill="#222" stroke="#222" stroke-width="0.07" textLength="173.9" lengthAdjust="spacingAndGlyphs">AML Cluster 3: Enriched Hallmark Gene Sets</text>
<text x="16.80" y="421.30" font-size="6.5" text-anchor="start" fill="#262626" stroke="#262626" stroke-width="0.07" textLength="171.9" lengthAdjust="spacingAndGlyphs">Genes up-regulated in response to IFNG [GeneID = 3458].</text>
<text x="10.30" y="433.40" font-size="6.5" text-anchor="start" fill="#262626" stroke="#262626" stroke-width="0.07" textLength="178.4" lengthAdjust="spacingAndGlyphs">Genes up-regulated in response to alpha interferon proteins.</text>
<text x="48.90" y="445.10" font-size="6.5" text-anchor="start" fill="#262626" stroke="#262626" stroke-width="0.07" textLength="139.8" lengthAdjust="spacingAndGlyphs">Genes up-regulated during transplant rejection.</text>
<text x="74.00" y="457.50" font-size="6.5" text-anchor="start" fill="#262626" stroke="#262626" stroke-width="0.07" textLength="114.7" lengthAdjust="spacingAndGlyphs">Genes defining inflammatory response.</text>
<text x="11.90" y="468.90" font-size="6.5" text-anchor="start" fill="#262626" stroke="#262626" stroke-width="0.07" textLength="176.8" lengthAdjust="spacingAndGlyphs">Genes up-regulated in response to ultraviolet (UV) radiation.</text>
<text x="50.50" y="481.80" font-size="6.5" text-anchor="start" fill="#262626" stroke="#262626" stroke-width="0.07" textLength="138.2" lengthAdjust="spacingAndGlyphs">Genes up-regulated by IL6 [GeneID = 3569] via</text>
<text x="15.30" y="488.90" font-size="6.5" text-anchor="start" fill="#262626" stroke="#262626" stroke-width="0.07" textLength="171.7" lengthAdjust="spacingAndGlyphs">STAT3 [GeneID = 6774], e.g., during acute phase response.</text>
<line x1="195.40" y1="415.50" x2="195.40" y2="486.50" stroke="#222" stroke-width="1.1"/>
<line x1="194.90" y1="486.50" x2="338.00" y2="486.50" stroke="#222" stroke-width="1.1"/>
<line x1="192.60" y1="418.60" x2="195.40" y2="418.60" stroke="#222" stroke-width="0.9"/>
<line x1="192.60" y1="430.66" x2="195.40" y2="430.66" stroke="#222" stroke-width="0.9"/>
<line x1="192.60" y1="442.72" x2="195.40" y2="442.72" stroke="#222" stroke-width="0.9"/>
<line x1="192.60" y1="454.78" x2="195.40" y2="454.78" stroke="#222" stroke-width="0.9"/>
<line x1="192.60" y1="466.84" x2="195.40" y2="466.84" stroke="#222" stroke-width="0.9"/>
<line x1="192.60" y1="478.90" x2="195.40" y2="478.90" stroke="#222" stroke-width="0.9"/>
<line x1="218.50" y1="486.50" x2="218.50" y2="489.20" stroke="#222" stroke-width="0.9"/>
<text x="218.50" y="497.90" font-size="6.6" text-anchor="middle" fill="#333" stroke="#333" stroke-width="0.07">5</text>
<line x1="247.70" y1="486.50" x2="247.70" y2="489.20" stroke="#222" stroke-width="0.9"/>
<text x="247.70" y="497.90" font-size="6.6" text-anchor="middle" fill="#333" stroke="#333" stroke-width="0.07">10</text>
<line x1="276.90" y1="486.50" x2="276.90" y2="489.20" stroke="#222" stroke-width="0.9"/>
<text x="276.90" y="497.90" font-size="6.6" text-anchor="middle" fill="#333" stroke="#333" stroke-width="0.07">15</text>
<line x1="306.10" y1="486.50" x2="306.10" y2="489.20" stroke="#222" stroke-width="0.9"/>
<text x="306.10" y="497.90" font-size="6.6" text-anchor="middle" fill="#333" stroke="#333" stroke-width="0.07">20</text>
<line x1="335.30" y1="486.50" x2="335.30" y2="489.20" stroke="#222" stroke-width="0.9"/>
<text x="335.30" y="497.90" font-size="6.6" text-anchor="middle" fill="#333" stroke="#333" stroke-width="0.07">25</text>
<text x="216.50" y="510.70" font-size="7.4" text-anchor="start" fill="#333" stroke="#333" stroke-width="0.07" textLength="98.5" lengthAdjust="spacingAndGlyphs"># Overlapping genes in gene set</text>
<circle cx="329.46" cy="418.60" r="1.75" fill="#132b43"/>
<circle cx="306.10" cy="430.66" r="1.75" fill="#14304a"/>
<circle cx="236.02" cy="442.72" r="1.75" fill="#15314c"/>
<circle cx="212.66" cy="454.78" r="1.75" fill="#132b43"/>
<circle cx="206.82" cy="466.84" r="1.75" fill="#173654"/>
<circle cx="200.98" cy="478.90" r="1.75" fill="#52aef0"/>
<defs><linearGradient id="cb" x1="0" y1="0" x2="0" y2="1"><stop offset="0" stop-color="#56b1f7"/><stop offset="1" stop-color="#132b43"/></linearGradient></defs>
<rect x="348.00" y="424.60" width="9.70" height="58.40" fill="url(#cb)"/>
<line x1="348.00" y1="426.50" x2="349.80" y2="426.50" stroke="#fff" stroke-width="0.6"/>
<line x1="355.90" y1="426.50" x2="357.70" y2="426.50" stroke="#fff" stroke-width="0.6"/>
<text x="359.80" y="428.70" font-size="6.2" text-anchor="start" fill="#333" stroke="#333" stroke-width="0.07">.003</text>
<line x1="348.00" y1="445.80" x2="349.80" y2="445.80" stroke="#fff" stroke-width="0.6"/>
<line x1="355.90" y1="445.80" x2="357.70" y2="445.80" stroke="#fff" stroke-width="0.6"/>
<text x="359.80" y="448.00" font-size="6.2" text-anchor="start" fill="#333" stroke="#333" stroke-width="0.07">.002</text>
<line x1="348.00" y1="465.80" x2="349.80" y2="465.80" stroke="#fff" stroke-width="0.6"/>
<line x1="355.90" y1="465.80" x2="357.70" y2="465.80" stroke="#fff" stroke-width="0.6"/>
<text x="359.80" y="468.00" font-size="6.2" text-anchor="start" fill="#333" stroke="#333" stroke-width="0.07">.001</text>
<text x="348.00" y="420.80" font-size="6.4" text-anchor="start" fill="#333" stroke="#333" stroke-width="0.07" textLength="19.5" lengthAdjust="spacingAndGlyphs">P.value</text>
<line x1="47.50" y1="550.30" x2="47.50" y2="633.00" stroke="#222" stroke-width="1.1"/>
<line x1="45.00" y1="632.50" x2="109.00" y2="632.50" stroke="#222" stroke-width="1.1"/>
<line x1="44.70" y1="632.50" x2="47.50" y2="632.50" stroke="#222" stroke-width="0.9"/>
<text x="41.90" y="634.80" font-size="6.6" text-anchor="end" fill="#2a2a2a" stroke="#2a2a2a" stroke-width="0.07">0</text>
<line x1="44.70" y1="605.83" x2="47.50" y2="605.83" stroke="#222" stroke-width="0.9"/>
<text x="41.90" y="608.13" font-size="6.6" text-anchor="end" fill="#2a2a2a" stroke="#2a2a2a" stroke-width="0.07">100</text>
<line x1="44.70" y1="579.16" x2="47.50" y2="579.16" stroke="#222" stroke-width="0.9"/>
<text x="41.90" y="581.46" font-size="6.6" text-anchor="end" fill="#2a2a2a" stroke="#2a2a2a" stroke-width="0.07">200</text>
<line x1="44.70" y1="552.49" x2="47.50" y2="552.49" stroke="#222" stroke-width="0.9"/>
<text x="41.90" y="554.79" font-size="6.6" text-anchor="end" fill="#2a2a2a" stroke="#2a2a2a" stroke-width="0.07">300</text>
<text x="25.30" y="592.70" font-size="7.2" text-anchor="middle" fill="#222" stroke="#222" stroke-width="0.07" textLength="43.3" lengthAdjust="spacingAndGlyphs" transform="rotate(-90 25.30 592.70)">IFN-γ (pg/mL)</text>
<rect x="52.30" y="627.17" width="8.40" height="5.33" fill="#d4223f"/>
<circle cx="54.50" cy="627.17" r="1.30" fill="#111"/>
<circle cx="56.50" cy="627.17" r="1.30" fill="#111"/>
<circle cx="58.50" cy="627.17" r="1.30" fill="#111"/>
<line x1="56.50" y1="632.50" x2="56.50" y2="634.90" stroke="#222" stroke-width="0.9"/>
<text x="58.80" y="641.60" font-size="6.1" text-anchor="end" fill="#222" stroke="#222" stroke-width="0.07" transform="rotate(-45 58.80 641.60)">Vehicle</text>
<rect x="66.70" y="627.17" width="8.40" height="5.33" fill="#1f4f8c"/>
<circle cx="68.90" cy="627.17" r="1.30" fill="#111"/>
<circle cx="70.90" cy="627.17" r="1.30" fill="#111"/>
<circle cx="72.90" cy="627.17" r="1.30" fill="#111"/>
<line x1="70.90" y1="632.50" x2="70.90" y2="634.90" stroke="#222" stroke-width="0.9"/>
<text x="73.20" y="641.60" font-size="6.1" text-anchor="end" fill="#222" stroke="#222" stroke-width="0.07" transform="rotate(-45 73.20 641.60)">FLZ</text>
<rect x="81.10" y="627.17" width="8.40" height="5.33" fill="#45b04a"/>
<circle cx="83.30" cy="627.17" r="1.30" fill="#111"/>
<circle cx="85.30" cy="627.17" r="1.30" fill="#111"/>
<circle cx="87.30" cy="627.17" r="1.30" fill="#111"/>
<line x1="85.30" y1="632.50" x2="85.30" y2="634.90" stroke="#222" stroke-width="0.9"/>
<text x="87.60" y="641.60" font-size="6.1" text-anchor="end" fill="#222" stroke="#222" stroke-width="0.07" transform="rotate(-45 87.60 641.60)">T cells</text>
<rect x="95.50" y="578.09" width="8.40" height="54.41" fill="#5d1d6f"/>
<line x1="99.70" y1="578.09" x2="99.70" y2="568.49" stroke="#111" stroke-width="0.9"/>
<line x1="97.70" y1="568.49" x2="101.70" y2="568.49" stroke="#111" stroke-width="0.9"/>
<circle cx="99.70" cy="564.49" r="1.30" fill="#111"/>
<circle cx="99.70" cy="577.83" r="1.30" fill="#111"/>
<circle cx="99.70" cy="581.83" r="1.30" fill="#111"/>
<line x1="99.70" y1="632.50" x2="99.70" y2="634.90" stroke="#222" stroke-width="0.9"/>
<text x="102.00" y="641.60" font-size="6.1" text-anchor="end" fill="#222" stroke="#222" stroke-width="0.07" transform="rotate(-45 102.00 641.60)">FLZ+T</text>
<line x1="56.50" y1="611.25" x2="85.30" y2="611.25" stroke="#333" stroke-width="1.0"/>
<line x1="70.90" y1="611.25" x2="70.90" y2="555.00" stroke="#333" stroke-width="1.0"/>
<line x1="70.40" y1="555.00" x2="99.70" y2="555.00" stroke="#333" stroke-width="1.0"/>
<line x1="99.70" y1="554.50" x2="99.70" y2="558.80" stroke="#333" stroke-width="1.0"/>
<text x="85.60" y="556.30" font-size="7.4" text-anchor="middle" fill="#1e1e1e" stroke="#1e1e1e" stroke-width="0.07">****</text>
<line x1="175.00" y1="550.30" x2="175.00" y2="633.00" stroke="#222" stroke-width="1.1"/>
<line x1="172.50" y1="632.50" x2="236.50" y2="632.50" stroke="#222" stroke-width="1.1"/>
<line x1="172.20" y1="632.50" x2="175.00" y2="632.50" stroke="#222" stroke-width="0.9"/>
<text x="169.40" y="634.80" font-size="6.6" text-anchor="end" fill="#2a2a2a" stroke="#2a2a2a" stroke-width="0.07">0</text>
<line x1="172.20" y1="616.45" x2="175.00" y2="616.45" stroke="#222" stroke-width="0.9"/>
<text x="169.40" y="618.75" font-size="6.6" text-anchor="end" fill="#2a2a2a" stroke="#2a2a2a" stroke-width="0.07">3</text>
<line x1="172.20" y1="600.40" x2="175.00" y2="600.40" stroke="#222" stroke-width="0.9"/>
<text x="169.40" y="602.70" font-size="6.6" text-anchor="end" fill="#2a2a2a" stroke="#2a2a2a" stroke-width="0.07">6</text>
<line x1="172.20" y1="584.35" x2="175.00" y2="584.35" stroke="#222" stroke-width="0.9"/>
<text x="169.40" y="586.65" font-size="6.6" text-anchor="end" fill="#2a2a2a" stroke="#2a2a2a" stroke-width="0.07">9</text>
<line x1="172.20" y1="568.30" x2="175.00" y2="568.30" stroke="#222" stroke-width="0.9"/>
<text x="169.40" y="570.60" font-size="6.6" text-anchor="end" fill="#2a2a2a" stroke="#2a2a2a" stroke-width="0.07">12</text>
<line x1="172.20" y1="552.25" x2="175.00" y2="552.25" stroke="#222" stroke-width="0.9"/>
<text x="169.40" y="554.55" font-size="6.6" text-anchor="end" fill="#2a2a2a" stroke="#2a2a2a" stroke-width="0.07">15</text>
<text x="156.00" y="592.60" font-size="7.2" text-anchor="middle" fill="#222" stroke="#222" stroke-width="0.07" textLength="54.8" lengthAdjust="spacingAndGlyphs" transform="rotate(-90 156.00 592.60)">MHC-I MFI (×10<tspan font-size="4.4" dy="-2.4">3</tspan><tspan dy="2.4">)</tspan></text>
<rect x="179.80" y="623.94" width="8.40" height="8.56" fill="#d4223f"/>
<circle cx="182.50" cy="621.80" r="1.30" fill="#111"/>
<circle cx="185.50" cy="624.48" r="1.30" fill="#111"/>
<circle cx="184.00" cy="625.54" r="1.30" fill="#111"/>
<line x1="184.00" y1="632.50" x2="184.00" y2="634.90" stroke="#222" stroke-width="0.9"/>
<text x="186.30" y="641.60" font-size="6.1" text-anchor="end" fill="#222" stroke="#222" stroke-width="0.07" transform="rotate(-45 186.30 641.60)">Vehicle</text>
<rect x="194.20" y="626.35" width="8.40" height="6.15" fill="#1f4f8c"/>
<circle cx="196.90" cy="626.08" r="1.30" fill="#111"/>
<circle cx="199.90" cy="626.35" r="1.30" fill="#111"/>
<line x1="198.40" y1="632.50" x2="198.40" y2="634.90" stroke="#222" stroke-width="0.9"/>
<text x="200.70" y="641.60" font-size="6.1" text-anchor="end" fill="#222" stroke="#222" stroke-width="0.07" transform="rotate(-45 200.70 641.60)">FLZ</text>
<rect x="208.60" y="625.54" width="8.40" height="6.96" fill="#45b04a"/>
<circle cx="211.30" cy="625.01" r="1.30" fill="#111"/>
<circle cx="214.30" cy="625.01" r="1.30" fill="#111"/>
<circle cx="212.80" cy="625.54" r="1.30" fill="#111"/>
<line x1="212.80" y1="632.50" x2="212.80" y2="634.90" stroke="#222" stroke-width="0.9"/>
<text x="215.10" y="641.60" font-size="6.1" text-anchor="end" fill="#222" stroke="#222" stroke-width="0.07" transform="rotate(-45 215.10 641.60)">T cells</text>
<rect x="223.00" y="577.93" width="8.40" height="54.57" fill="#5d1d6f"/>
<line x1="227.20" y1="577.93" x2="227.20" y2="568.84" stroke="#111" stroke-width="0.9"/>
<line x1="225.20" y1="568.84" x2="229.20" y2="568.84" stroke="#111" stroke-width="0.9"/>
<circle cx="227.20" cy="567.76" r="1.30" fill="#111"/>
<circle cx="229.20" cy="571.51" r="1.30" fill="#111"/>
<circle cx="227.20" cy="577.39" r="1.30" fill="#111"/>
<circle cx="226.20" cy="587.02" r="1.30" fill="#111"/>
<line x1="227.20" y1="632.50" x2="227.20" y2="634.90" stroke="#222" stroke-width="0.9"/>
<text x="229.50" y="641.60" font-size="6.1" text-anchor="end" fill="#222" stroke="#222" stroke-width="0.07" transform="rotate(-45 229.50 641.60)">FLZ+T</text>
<line x1="184.00" y1="607.00" x2="212.80" y2="607.00" stroke="#333" stroke-width="1.0"/>
<line x1="198.40" y1="607.00" x2="198.40" y2="550.50" stroke="#333" stroke-width="1.0"/>
<line x1="197.90" y1="550.50" x2="227.20" y2="550.50" stroke="#333" stroke-width="1.0"/>
<line x1="227.20" y1="550.00" x2="227.20" y2="553.80" stroke="#333" stroke-width="1.0"/>
<text x="213.10" y="551.80" font-size="7.4" text-anchor="middle" fill="#1e1e1e" stroke="#1e1e1e" stroke-width="0.07">****</text>
<line x1="296.25" y1="550.30" x2="296.25" y2="633.00" stroke="#222" stroke-width="1.1"/>
<line x1="293.75" y1="632.50" x2="357.75" y2="632.50" stroke="#222" stroke-width="1.1"/>
<line x1="293.45" y1="632.50" x2="296.25" y2="632.50" stroke="#222" stroke-width="0.9"/>
<text x="290.65" y="634.80" font-size="6.6" text-anchor="end" fill="#2a2a2a" stroke="#2a2a2a" stroke-width="0.07">0</text>
<line x1="293.45" y1="612.49" x2="296.25" y2="612.49" stroke="#222" stroke-width="0.9"/>
<text x="290.65" y="614.79" font-size="6.6" text-anchor="end" fill="#2a2a2a" stroke="#2a2a2a" stroke-width="0.07">3</text>
<line x1="293.45" y1="592.48" x2="296.25" y2="592.48" stroke="#222" stroke-width="0.9"/>
<text x="290.65" y="594.78" font-size="6.6" text-anchor="end" fill="#2a2a2a" stroke="#2a2a2a" stroke-width="0.07">6</text>
<line x1="293.45" y1="572.47" x2="296.25" y2="572.47" stroke="#222" stroke-width="0.9"/>
<text x="290.65" y="574.77" font-size="6.6" text-anchor="end" fill="#2a2a2a" stroke="#2a2a2a" stroke-width="0.07">9</text>
<line x1="293.45" y1="552.46" x2="296.25" y2="552.46" stroke="#222" stroke-width="0.9"/>
<text x="290.65" y="554.76" font-size="6.6" text-anchor="end" fill="#2a2a2a" stroke="#2a2a2a" stroke-width="0.07">12</text>
<text x="279.40" y="592.30" font-size="7.2" text-anchor="middle" fill="#222" stroke="#222" stroke-width="0.07" textLength="57" lengthAdjust="spacingAndGlyphs" transform="rotate(-90 279.40 592.30)">MHC-II MFI (×10<tspan font-size="4.4" dy="-2.4">3</tspan><tspan dy="2.4">)</tspan></text>
<rect x="301.05" y="631.50" width="8.40" height="1.00" fill="#d4223f"/>
<circle cx="303.05" cy="631.17" r="1.30" fill="#111"/>
<circle cx="305.25" cy="630.83" r="1.30" fill="#111"/>
<circle cx="307.45" cy="631.50" r="1.30" fill="#111"/>
<line x1="305.25" y1="632.50" x2="305.25" y2="634.90" stroke="#222" stroke-width="0.9"/>
<text x="307.55" y="641.60" font-size="6.1" text-anchor="end" fill="#222" stroke="#222" stroke-width="0.07" transform="rotate(-45 307.55 641.60)">Vehicle</text>
<rect x="315.45" y="631.70" width="8.40" height="0.80" fill="#1f4f8c"/>
<circle cx="317.45" cy="631.50" r="1.30" fill="#111"/>
<circle cx="319.65" cy="631.17" r="1.30" fill="#111"/>
<circle cx="321.85" cy="631.50" r="1.30" fill="#111"/>
<line x1="319.65" y1="632.50" x2="319.65" y2="634.90" stroke="#222" stroke-width="0.9"/>
<text x="321.95" y="641.60" font-size="6.1" text-anchor="end" fill="#222" stroke="#222" stroke-width="0.07" transform="rotate(-45 321.95 641.60)">FLZ</text>
<rect x="329.85" y="631.70" width="8.40" height="0.80" fill="#45b04a"/>
<circle cx="331.85" cy="631.50" r="1.30" fill="#111"/>
<circle cx="334.05" cy="631.17" r="1.30" fill="#111"/>
<circle cx="336.25" cy="631.50" r="1.30" fill="#111"/>
<line x1="334.05" y1="632.50" x2="334.05" y2="634.90" stroke="#222" stroke-width="0.9"/>
<text x="336.35" y="641.60" font-size="6.1" text-anchor="end" fill="#222" stroke="#222" stroke-width="0.07" transform="rotate(-45 336.35 641.60)">T cells</text>
<rect x="344.25" y="612.49" width="8.40" height="20.01" fill="#5d1d6f"/>
<line x1="348.45" y1="612.49" x2="348.45" y2="590.48" stroke="#111" stroke-width="0.9"/>
<line x1="346.45" y1="590.48" x2="350.45" y2="590.48" stroke="#111" stroke-width="0.9"/>
<circle cx="348.45" cy="564.47" r="1.30" fill="#111"/>
<circle cx="348.45" cy="602.49" r="1.30" fill="#111"/>
<circle cx="348.45" cy="609.82" r="1.30" fill="#111"/>
<circle cx="348.45" cy="616.49" r="1.30" fill="#111"/>
<circle cx="348.45" cy="622.50" r="1.30" fill="#111"/>
<line x1="348.45" y1="632.50" x2="348.45" y2="634.90" stroke="#222" stroke-width="0.9"/>
<text x="350.75" y="641.60" font-size="6.1" text-anchor="end" fill="#222" stroke="#222" stroke-width="0.07" transform="rotate(-45 350.75 641.60)">FLZ+T</text>
<line x1="305.25" y1="605.50" x2="334.05" y2="605.50" stroke="#333" stroke-width="1.0"/>
<line x1="319.65" y1="605.50" x2="319.65" y2="549.50" stroke="#333" stroke-width="1.0"/>
<line x1="319.15" y1="549.50" x2="348.45" y2="549.50" stroke="#333" stroke-width="1.0"/>
<line x1="348.45" y1="549.00" x2="348.45" y2="552.00" stroke="#333" stroke-width="1.0"/>
<text x="334.35" y="550.80" font-size="7.4" text-anchor="middle" fill="#1e1e1e" stroke="#1e1e1e" stroke-width="0.07">****</text>
<line x1="423.25" y1="550.30" x2="423.25" y2="633.00" stroke="#222" stroke-width="1.1"/>
<line x1="420.75" y1="632.50" x2="484.75" y2="632.50" stroke="#222" stroke-width="1.1"/>
<line x1="420.45" y1="632.50" x2="423.25" y2="632.50" stroke="#222" stroke-width="0.9"/>
<text x="417.65" y="634.80" font-size="6.6" text-anchor="end" fill="#2a2a2a" stroke="#2a2a2a" stroke-width="0.07">0</text>
<line x1="420.45" y1="616.36" x2="423.25" y2="616.36" stroke="#222" stroke-width="0.9"/>
<text x="417.65" y="618.66" font-size="6.6" text-anchor="end" fill="#2a2a2a" stroke="#2a2a2a" stroke-width="0.07">25</text>
<line x1="420.45" y1="600.22" x2="423.25" y2="600.22" stroke="#222" stroke-width="0.9"/>
<text x="417.65" y="602.52" font-size="6.6" text-anchor="end" fill="#2a2a2a" stroke="#2a2a2a" stroke-width="0.07">50</text>
<line x1="420.45" y1="584.08" x2="423.25" y2="584.08" stroke="#222" stroke-width="0.9"/>
<text x="417.65" y="586.38" font-size="6.6" text-anchor="end" fill="#2a2a2a" stroke="#2a2a2a" stroke-width="0.07">75</text>
<line x1="420.45" y1="567.94" x2="423.25" y2="567.94" stroke="#222" stroke-width="0.9"/>
<text x="417.65" y="570.24" font-size="6.6" text-anchor="end" fill="#2a2a2a" stroke="#2a2a2a" stroke-width="0.07">100</text>
<line x1="420.45" y1="551.80" x2="423.25" y2="551.80" stroke="#222" stroke-width="0.9"/>
<text x="417.65" y="554.10" font-size="6.6" text-anchor="end" fill="#2a2a2a" stroke="#2a2a2a" stroke-width="0.07">125</text>
<text x="400.30" y="593.00" font-size="7.2" text-anchor="middle" fill="#222" stroke="#222" stroke-width="0.07" textLength="31" lengthAdjust="spacingAndGlyphs" transform="rotate(-90 400.30 593.00)">%MHC-II+</text>
<rect x="428.05" y="630.89" width="8.40" height="1.61" fill="#d4223f"/>
<circle cx="433.05" cy="627.66" r="1.30" fill="#111"/>
<circle cx="430.05" cy="630.89" r="1.30" fill="#111"/>
<circle cx="432.25" cy="630.56" r="1.30" fill="#111"/>
<circle cx="434.45" cy="631.53" r="1.30" fill="#111"/>
<line x1="432.25" y1="632.50" x2="432.25" y2="634.90" stroke="#222" stroke-width="0.9"/>
<text x="434.55" y="641.60" font-size="6.1" text-anchor="end" fill="#222" stroke="#222" stroke-width="0.07" transform="rotate(-45 434.55 641.60)">Vehicle</text>
<rect x="442.45" y="631.53" width="8.40" height="0.97" fill="#1f4f8c"/>
<circle cx="444.45" cy="631.21" r="1.30" fill="#111"/>
<circle cx="446.65" cy="630.89" r="1.30" fill="#111"/>
<circle cx="448.85" cy="631.53" r="1.30" fill="#111"/>
<line x1="446.65" y1="632.50" x2="446.65" y2="634.90" stroke="#222" stroke-width="0.9"/>
<text x="448.95" y="641.60" font-size="6.1" text-anchor="end" fill="#222" stroke="#222" stroke-width="0.07" transform="rotate(-45 448.95 641.60)">FLZ</text>
<rect x="456.85" y="631.53" width="8.40" height="0.97" fill="#45b04a"/>
<circle cx="458.85" cy="631.21" r="1.30" fill="#111"/>
<circle cx="461.05" cy="630.89" r="1.30" fill="#111"/>
<circle cx="463.25" cy="631.21" r="1.30" fill="#111"/>
<line x1="461.05" y1="632.50" x2="461.05" y2="634.90" stroke="#222" stroke-width="0.9"/>
<text x="463.35" y="641.60" font-size="6.1" text-anchor="end" fill="#222" stroke="#222" stroke-width="0.07" transform="rotate(-45 463.35 641.60)">T cells</text>
<rect x="471.25" y="573.75" width="8.40" height="58.75" fill="#5d1d6f"/>
<line x1="475.45" y1="573.75" x2="475.45" y2="570.52" stroke="#111" stroke-width="0.9"/>
<line x1="473.45" y1="570.52" x2="477.45" y2="570.52" stroke="#111" stroke-width="0.9"/>
<circle cx="473.95" cy="571.17" r="1.30" fill="#111"/>
<circle cx="476.95" cy="572.46" r="1.30" fill="#111"/>
<circle cx="475.45" cy="575.69" r="1.30" fill="#111"/>
<circle cx="474.45" cy="580.85" r="1.30" fill="#111"/>
<circle cx="475.45" cy="587.31" r="1.30" fill="#111"/>
<line x1="475.45" y1="632.50" x2="475.45" y2="634.90" stroke="#222" stroke-width="0.9"/>
<text x="477.75" y="641.60" font-size="6.1" text-anchor="end" fill="#222" stroke="#222" stroke-width="0.07" transform="rotate(-45 477.75 641.60)">FLZ+T</text>
<line x1="432.25" y1="611.25" x2="461.05" y2="611.25" stroke="#333" stroke-width="1.0"/>
<line x1="446.65" y1="611.25" x2="446.65" y2="554.25" stroke="#333" stroke-width="1.0"/>
<line x1="446.15" y1="554.25" x2="475.45" y2="554.25" stroke="#333" stroke-width="1.0"/>
<line x1="475.45" y1="553.75" x2="475.45" y2="557.50" stroke="#333" stroke-width="1.0"/>
<text x="461.35" y="555.55" font-size="7.4" text-anchor="middle" fill="#1e1e1e" stroke="#1e1e1e" stroke-width="0.07">****</text>
</svg>
</body></html>
